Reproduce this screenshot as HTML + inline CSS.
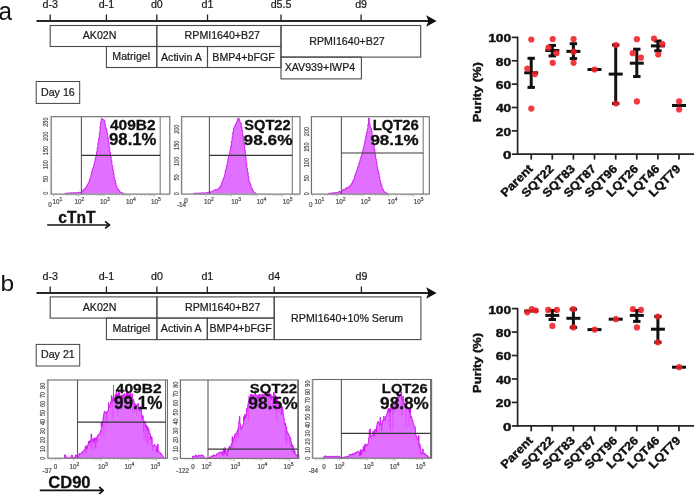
<!DOCTYPE html>
<html><head><meta charset="utf-8"><style>
html,body{margin:0;padding:0;background:#fff;width:694px;height:495px;overflow:hidden}
svg{display:block;font-family:"Liberation Sans", sans-serif;will-change:transform}
</style></head><body>
<svg width="694" height="495" viewBox="0 0 694 495">
<rect width="694" height="495" fill="#fff"/>
<text x="-1.57" y="20.00" font-size="26.67" font-weight="normal" fill="#111" textLength="13.48" lengthAdjust="spacingAndGlyphs" >a</text>
<text x="0.48" y="291.00" font-size="22.88" font-weight="normal" fill="#111" textLength="13.65" lengthAdjust="spacingAndGlyphs" >b</text>
<line x1="36.50" y1="21.00" x2="429.00" y2="21.00" stroke="#262626" stroke-width="2"/>
<polygon points="426.2,15.3 436.6,21.0 426.2,26.7 428.4,21.0" fill="#111"/>
<line x1="50.20" y1="14.50" x2="50.20" y2="21.00" stroke="#222" stroke-width="1.3"/>
<text x="50.20" y="7.80" font-size="10.65" text-anchor="middle" font-weight="normal" fill="#1a1a1a" stroke="#1a1a1a" stroke-width="0.22">d-3</text>
<line x1="106.40" y1="14.50" x2="106.40" y2="21.00" stroke="#222" stroke-width="1.3"/>
<text x="106.40" y="7.80" font-size="10.65" text-anchor="middle" font-weight="normal" fill="#1a1a1a" stroke="#1a1a1a" stroke-width="0.22">d-1</text>
<line x1="156.80" y1="14.50" x2="156.80" y2="21.00" stroke="#222" stroke-width="1.3"/>
<text x="156.80" y="7.80" font-size="10.65" text-anchor="middle" font-weight="normal" fill="#1a1a1a" stroke="#1a1a1a" stroke-width="0.22">d0</text>
<line x1="207.50" y1="14.50" x2="207.50" y2="21.00" stroke="#222" stroke-width="1.3"/>
<text x="207.50" y="7.80" font-size="10.65" text-anchor="middle" font-weight="normal" fill="#1a1a1a" stroke="#1a1a1a" stroke-width="0.22">d1</text>
<line x1="281.00" y1="14.50" x2="281.00" y2="21.00" stroke="#222" stroke-width="1.3"/>
<text x="281.00" y="7.80" font-size="10.65" text-anchor="middle" font-weight="normal" fill="#1a1a1a" stroke="#1a1a1a" stroke-width="0.22">d5.5</text>
<line x1="361.10" y1="14.50" x2="361.10" y2="21.00" stroke="#222" stroke-width="1.3"/>
<text x="361.10" y="7.80" font-size="10.65" text-anchor="middle" font-weight="normal" fill="#1a1a1a" stroke="#1a1a1a" stroke-width="0.22">d9</text>
<rect x="50.20" y="25.50" width="106.60" height="21.00" stroke="#4a4a4a" stroke-width="1.1" fill="none"/>
<rect x="106.40" y="46.50" width="50.40" height="21.00" stroke="#4a4a4a" stroke-width="1.1" fill="none"/>
<rect x="156.80" y="25.50" width="124.20" height="21.00" stroke="#4a4a4a" stroke-width="1.1" fill="none"/>
<rect x="156.80" y="46.50" width="50.70" height="21.00" stroke="#4a4a4a" stroke-width="1.1" fill="none"/>
<rect x="207.50" y="46.50" width="73.50" height="21.00" stroke="#4a4a4a" stroke-width="1.1" fill="none"/>
<rect x="281.00" y="25.50" width="139.70" height="31.60" stroke="#4a4a4a" stroke-width="1.1" fill="none"/>
<rect x="281.00" y="57.10" width="80.40" height="21.80" stroke="#4a4a4a" stroke-width="1.1" fill="none"/>
<text x="82.70" y="38.90" font-size="10.65" text-anchor="start" font-weight="normal" fill="#1a1a1a" stroke="#1a1a1a" stroke-width="0.22">AK02N</text>
<text x="112.30" y="60.40" font-size="10.65" text-anchor="start" font-weight="normal" fill="#1a1a1a" stroke="#1a1a1a" stroke-width="0.22">Matrigel</text>
<text x="184.60" y="38.90" font-size="10.65" text-anchor="start" font-weight="normal" fill="#1a1a1a" stroke="#1a1a1a" stroke-width="0.22">RPMI1640+B27</text>
<text x="161.00" y="60.50" font-size="10.65" text-anchor="start" font-weight="normal" fill="#1a1a1a" stroke="#1a1a1a" stroke-width="0.22">Activin A</text>
<text x="212.30" y="60.50" font-size="10.65" text-anchor="start" font-weight="normal" fill="#1a1a1a" stroke="#1a1a1a" stroke-width="0.22">BMP4+bFGF</text>
<text x="309.30" y="44.60" font-size="10.65" text-anchor="start" font-weight="normal" fill="#1a1a1a" stroke="#1a1a1a" stroke-width="0.22">RPMI1640+B27</text>
<text x="284.70" y="71.00" font-size="10.65" text-anchor="start" font-weight="normal" fill="#1a1a1a" stroke="#1a1a1a" stroke-width="0.22">XAV939+IWP4</text>
<line x1="36.50" y1="293.00" x2="429.00" y2="293.00" stroke="#262626" stroke-width="2"/>
<polygon points="426.2,287.3 436.6,293.0 426.2,298.7 428.4,293.0" fill="#111"/>
<line x1="50.20" y1="286.50" x2="50.20" y2="293.00" stroke="#222" stroke-width="1.3"/>
<text x="50.20" y="279.80" font-size="10.65" text-anchor="middle" font-weight="normal" fill="#1a1a1a" stroke="#1a1a1a" stroke-width="0.22">d-3</text>
<line x1="106.40" y1="286.50" x2="106.40" y2="293.00" stroke="#222" stroke-width="1.3"/>
<text x="106.40" y="279.80" font-size="10.65" text-anchor="middle" font-weight="normal" fill="#1a1a1a" stroke="#1a1a1a" stroke-width="0.22">d-1</text>
<line x1="156.90" y1="286.50" x2="156.90" y2="293.00" stroke="#222" stroke-width="1.3"/>
<text x="156.90" y="279.80" font-size="10.65" text-anchor="middle" font-weight="normal" fill="#1a1a1a" stroke="#1a1a1a" stroke-width="0.22">d0</text>
<line x1="207.30" y1="286.50" x2="207.30" y2="293.00" stroke="#222" stroke-width="1.3"/>
<text x="207.30" y="279.80" font-size="10.65" text-anchor="middle" font-weight="normal" fill="#1a1a1a" stroke="#1a1a1a" stroke-width="0.22">d1</text>
<line x1="274.20" y1="286.50" x2="274.20" y2="293.00" stroke="#222" stroke-width="1.3"/>
<text x="274.20" y="279.80" font-size="10.65" text-anchor="middle" font-weight="normal" fill="#1a1a1a" stroke="#1a1a1a" stroke-width="0.22">d4</text>
<line x1="361.40" y1="286.50" x2="361.40" y2="293.00" stroke="#222" stroke-width="1.3"/>
<text x="361.40" y="279.80" font-size="10.65" text-anchor="middle" font-weight="normal" fill="#1a1a1a" stroke="#1a1a1a" stroke-width="0.22">d9</text>
<rect x="50.20" y="296.90" width="106.70" height="21.20" stroke="#4a4a4a" stroke-width="1.1" fill="none"/>
<rect x="106.40" y="318.10" width="50.50" height="21.50" stroke="#4a4a4a" stroke-width="1.1" fill="none"/>
<rect x="156.90" y="296.90" width="117.30" height="21.20" stroke="#4a4a4a" stroke-width="1.1" fill="none"/>
<rect x="156.90" y="318.10" width="50.40" height="21.50" stroke="#4a4a4a" stroke-width="1.1" fill="none"/>
<rect x="207.30" y="318.10" width="66.90" height="21.50" stroke="#4a4a4a" stroke-width="1.1" fill="none"/>
<rect x="274.20" y="296.90" width="146.70" height="42.70" stroke="#4a4a4a" stroke-width="1.1" fill="none"/>
<text x="82.70" y="310.90" font-size="10.65" text-anchor="start" font-weight="normal" fill="#1a1a1a" stroke="#1a1a1a" stroke-width="0.22">AK02N</text>
<text x="112.40" y="332.00" font-size="10.65" text-anchor="start" font-weight="normal" fill="#1a1a1a" stroke="#1a1a1a" stroke-width="0.22">Matrigel</text>
<text x="185.00" y="310.60" font-size="10.65" text-anchor="start" font-weight="normal" fill="#1a1a1a" stroke="#1a1a1a" stroke-width="0.22">RPMI1640+B27</text>
<text x="160.80" y="332.00" font-size="10.65" text-anchor="start" font-weight="normal" fill="#1a1a1a" stroke="#1a1a1a" stroke-width="0.22">Activin A</text>
<text x="209.40" y="332.00" font-size="10.65" text-anchor="start" font-weight="normal" fill="#1a1a1a" stroke="#1a1a1a" stroke-width="0.22">BMP4+bFGF</text>
<text x="291.10" y="321.60" font-size="10.65" text-anchor="start" font-weight="normal" fill="#1a1a1a" stroke="#1a1a1a" stroke-width="0.22">RPMI1640+10% Serum</text>
<rect x="36.20" y="81.50" width="43.50" height="21.90" stroke="#444" stroke-width="1" fill="none"/>
<text x="41.00" y="95.60" font-size="10.65" text-anchor="start" font-weight="normal" fill="#1a1a1a" stroke="#1a1a1a" stroke-width="0.22">Day 16</text>
<rect x="36.20" y="344.40" width="43.50" height="21.60" stroke="#444" stroke-width="1" fill="none"/>
<text x="41.00" y="358.00" font-size="10.65" text-anchor="start" font-weight="normal" fill="#1a1a1a" stroke="#1a1a1a" stroke-width="0.22">Day 21</text>
<path d="M65.00,193.60 L65.00,193.26 L65.70,193.26 L65.70,193.29 L66.40,193.29 L66.40,193.23 L67.10,193.23 L67.10,193.09 L67.80,193.09 L67.80,193.08 L68.50,193.08 L68.50,193.01 L69.20,193.01 L69.20,193.00 L69.90,193.00 L69.90,192.99 L70.60,192.99 L70.60,192.76 L71.30,192.76 L71.30,192.71 L72.00,192.71 L72.00,192.92 L72.70,192.92 L72.70,192.77 L73.40,192.77 L73.40,192.85 L74.10,192.85 L74.10,192.56 L74.80,192.56 L74.80,192.69 L75.50,192.69 L75.50,192.75 L76.20,192.75 L76.20,192.52 L76.90,192.52 L76.90,192.77 L77.60,192.77 L77.60,192.71 L78.30,192.71 L78.30,192.30 L79.00,192.30 L79.00,192.24 L79.70,192.24 L79.70,192.44 L80.40,192.44 L80.40,192.47 L81.10,192.47 L81.10,191.85 L81.80,191.85 L81.80,191.21 L82.50,191.21 L82.50,190.77 L83.20,190.77 L83.20,189.69 L83.90,189.69 L83.90,189.25 L84.60,189.25 L84.60,188.78 L85.30,188.78 L85.30,188.12 L86.00,188.12 L86.00,186.99 L86.70,186.99 L86.70,185.68 L87.40,185.68 L87.40,184.35 L88.10,184.35 L88.10,183.18 L88.80,183.18 L88.80,181.50 L89.50,181.50 L89.50,179.31 L90.20,179.31 L90.20,177.44 L90.90,177.44 L90.90,174.30 L91.60,174.30 L91.60,171.72 L92.30,171.72 L92.30,168.67 L93.00,168.67 L93.00,167.27 L93.70,167.27 L93.70,164.82 L94.40,164.82 L94.40,161.67 L95.10,161.67 L95.10,158.56 L95.80,158.56 L95.80,155.49 L96.50,155.49 L96.50,151.64 L97.20,151.64 L97.20,147.66 L97.90,147.66 L97.90,142.81 L98.60,142.81 L98.60,138.15 L99.30,138.15 L99.30,132.80 L100.00,132.80 L100.00,126.36 L100.70,126.36 L100.70,121.45 L101.40,121.45 L101.40,118.46 L102.10,118.46 L102.10,119.37 L102.80,119.37 L102.80,119.55 L103.50,119.55 L103.50,119.75 L104.20,119.75 L104.20,120.64 L104.90,120.64 L104.90,124.39 L105.60,124.39 L105.60,127.91 L106.30,127.91 L106.30,130.05 L107.00,130.05 L107.00,133.54 L107.70,133.54 L107.70,138.23 L108.40,138.23 L108.40,142.92 L109.10,142.92 L109.10,148.03 L109.80,148.03 L109.80,152.50 L110.50,152.50 L110.50,156.60 L111.20,156.60 L111.20,160.83 L111.90,160.83 L111.90,165.40 L112.60,165.40 L112.60,169.33 L113.30,169.33 L113.30,173.42 L114.00,173.42 L114.00,177.78 L114.70,177.78 L114.70,180.36 L115.40,180.36 L115.40,183.07 L116.10,183.07 L116.10,185.86 L116.80,185.86 L116.80,188.08 L117.50,188.08 L117.50,188.85 L118.20,188.85 L118.20,189.84 L118.90,189.84 L118.90,190.57 L119.60,190.57 L119.60,191.67 L120.30,191.67 L120.30,192.57 L121.00,192.57 L121.00,192.64 L121.70,192.64 L121.70,192.74 L122.40,192.74 L122.40,193.03 L123.10,193.03 L123.10,193.08 L123.80,193.08 L123.80,193.60 Z" fill="#E16FFF" stroke="none"/>
<path d="M65.00,193.60 L65.00,193.26 L65.70,193.26 L65.70,193.29 L66.40,193.29 L66.40,193.23 L67.10,193.23 L67.10,193.09 L67.80,193.09 L67.80,193.08 L68.50,193.08 L68.50,193.01 L69.20,193.01 L69.20,193.00 L69.90,193.00 L69.90,192.99 L70.60,192.99 L70.60,192.76 L71.30,192.76 L71.30,192.71 L72.00,192.71 L72.00,192.92 L72.70,192.92 L72.70,192.77 L73.40,192.77 L73.40,192.85 L74.10,192.85 L74.10,192.56 L74.80,192.56 L74.80,192.69 L75.50,192.69 L75.50,192.75 L76.20,192.75 L76.20,192.52 L76.90,192.52 L76.90,192.77 L77.60,192.77 L77.60,192.71 L78.30,192.71 L78.30,192.30 L79.00,192.30 L79.00,192.24 L79.70,192.24 L79.70,192.44 L80.40,192.44 L80.40,192.47 L81.10,192.47 L81.10,191.85 L81.80,191.85 L81.80,191.21 L82.50,191.21 L82.50,190.77 L83.20,190.77 L83.20,189.69 L83.90,189.69 L83.90,189.25 L84.60,189.25 L84.60,188.78 L85.30,188.78 L85.30,188.12 L86.00,188.12 L86.00,186.99 L86.70,186.99 L86.70,185.68 L87.40,185.68 L87.40,184.35 L88.10,184.35 L88.10,183.18 L88.80,183.18 L88.80,181.50 L89.50,181.50 L89.50,179.31 L90.20,179.31 L90.20,177.44 L90.90,177.44 L90.90,174.30 L91.60,174.30 L91.60,171.72 L92.30,171.72 L92.30,168.67 L93.00,168.67 L93.00,167.27 L93.70,167.27 L93.70,164.82 L94.40,164.82 L94.40,161.67 L95.10,161.67 L95.10,158.56 L95.80,158.56 L95.80,155.49 L96.50,155.49 L96.50,151.64 L97.20,151.64 L97.20,147.66 L97.90,147.66 L97.90,142.81 L98.60,142.81 L98.60,138.15 L99.30,138.15 L99.30,132.80 L100.00,132.80 L100.00,126.36 L100.70,126.36 L100.70,121.45 L101.40,121.45 L101.40,118.46 L102.10,118.46 L102.10,119.37 L102.80,119.37 L102.80,119.55 L103.50,119.55 L103.50,119.75 L104.20,119.75 L104.20,120.64 L104.90,120.64 L104.90,124.39 L105.60,124.39 L105.60,127.91 L106.30,127.91 L106.30,130.05 L107.00,130.05 L107.00,133.54 L107.70,133.54 L107.70,138.23 L108.40,138.23 L108.40,142.92 L109.10,142.92 L109.10,148.03 L109.80,148.03 L109.80,152.50 L110.50,152.50 L110.50,156.60 L111.20,156.60 L111.20,160.83 L111.90,160.83 L111.90,165.40 L112.60,165.40 L112.60,169.33 L113.30,169.33 L113.30,173.42 L114.00,173.42 L114.00,177.78 L114.70,177.78 L114.70,180.36 L115.40,180.36 L115.40,183.07 L116.10,183.07 L116.10,185.86 L116.80,185.86 L116.80,188.08 L117.50,188.08 L117.50,188.85 L118.20,188.85 L118.20,189.84 L118.90,189.84 L118.90,190.57 L119.60,190.57 L119.60,191.67 L120.30,191.67 L120.30,192.57 L121.00,192.57 L121.00,192.64 L121.70,192.64 L121.70,192.74 L122.40,192.74 L122.40,193.03 L123.10,193.03 L123.10,193.08 L123.80,193.08 L123.80,193.60" fill="none" stroke="#D000F2" stroke-width="0.85" stroke-linejoin="miter" stroke-opacity="0.95"/>
<rect x="51.20" y="116.70" width="118.60" height="77.40" stroke="#6a6a6a" stroke-width="1.1" fill="none"/>
<line x1="81.40" y1="116.70" x2="81.40" y2="194.10" stroke="#5a5a5a" stroke-width="1.1"/>
<line x1="160.20" y1="116.70" x2="160.20" y2="194.10" stroke="#707070" stroke-width="1.0"/>
<line x1="81.40" y1="155.40" x2="160.20" y2="155.40" stroke="#383838" stroke-width="1.1"/>
<path d="M193.60,193.60 L193.60,193.35 L194.30,193.35 L194.30,193.33 L195.00,193.33 L195.00,193.17 L195.70,193.17 L195.70,193.14 L196.40,193.14 L196.40,193.23 L197.10,193.23 L197.10,193.18 L197.80,193.18 L197.80,193.14 L198.50,193.14 L198.50,193.03 L199.20,193.03 L199.20,193.06 L199.90,193.06 L199.90,193.03 L200.60,193.03 L200.60,193.00 L201.30,193.00 L201.30,192.86 L202.00,192.86 L202.00,192.90 L202.70,192.90 L202.70,192.86 L203.40,192.86 L203.40,192.93 L204.10,192.93 L204.10,192.99 L204.80,192.99 L204.80,192.95 L205.50,192.95 L205.50,192.76 L206.20,192.76 L206.20,192.64 L206.90,192.64 L206.90,192.49 L207.60,192.49 L207.60,192.30 L208.30,192.30 L208.30,192.20 L209.00,192.20 L209.00,192.33 L209.70,192.33 L209.70,192.09 L210.40,192.09 L210.40,191.86 L211.10,191.86 L211.10,191.98 L211.80,191.98 L211.80,191.42 L212.50,191.42 L212.50,191.17 L213.20,191.17 L213.20,190.53 L213.90,190.53 L213.90,189.97 L214.60,189.97 L214.60,190.09 L215.30,190.09 L215.30,189.63 L216.00,189.63 L216.00,189.85 L216.70,189.85 L216.70,190.20 L217.40,190.20 L217.40,189.58 L218.10,189.58 L218.10,188.31 L218.80,188.31 L218.80,188.32 L219.50,188.32 L219.50,187.36 L220.20,187.36 L220.20,185.93 L220.90,185.93 L220.90,184.78 L221.60,184.78 L221.60,182.82 L222.30,182.82 L222.30,181.00 L223.00,181.00 L223.00,178.62 L223.70,178.62 L223.70,177.38 L224.40,177.38 L224.40,174.59 L225.10,174.59 L225.10,170.85 L225.80,170.85 L225.80,168.79 L226.50,168.79 L226.50,165.66 L227.20,165.66 L227.20,161.85 L227.90,161.85 L227.90,158.44 L228.60,158.44 L228.60,155.52 L229.30,155.52 L229.30,153.18 L230.00,153.18 L230.00,149.80 L230.70,149.80 L230.70,145.96 L231.40,145.96 L231.40,141.14 L232.10,141.14 L232.10,137.02 L232.80,137.02 L232.80,131.89 L233.50,131.89 L233.50,128.14 L234.20,128.14 L234.20,126.50 L234.90,126.50 L234.90,125.25 L235.60,125.25 L235.60,123.94 L236.30,123.94 L236.30,122.59 L237.00,122.59 L237.00,120.32 L237.70,120.32 L237.70,118.36 L238.40,118.36 L238.40,118.30 L239.10,118.30 L239.10,119.61 L239.80,119.61 L239.80,122.32 L240.50,122.32 L240.50,123.07 L241.20,123.07 L241.20,126.92 L241.90,126.92 L241.90,130.44 L242.60,130.44 L242.60,135.55 L243.30,135.55 L243.30,140.19 L244.00,140.19 L244.00,144.89 L244.70,144.89 L244.70,150.61 L245.40,150.61 L245.40,156.78 L246.10,156.78 L246.10,162.76 L246.80,162.76 L246.80,168.47 L247.50,168.47 L247.50,172.35 L248.20,172.35 L248.20,176.71 L248.90,176.71 L248.90,181.22 L249.60,181.22 L249.60,183.01 L250.30,183.01 L250.30,184.52 L251.00,184.52 L251.00,187.58 L251.70,187.58 L251.70,188.88 L252.40,188.88 L252.40,190.39 L253.10,190.39 L253.10,190.90 L253.80,190.90 L253.80,192.48 L254.50,192.48 L254.50,192.62 L255.20,192.62 L255.20,193.21 L255.90,193.21 L255.90,193.60 Z" fill="#E16FFF" stroke="none"/>
<path d="M193.60,193.60 L193.60,193.35 L194.30,193.35 L194.30,193.33 L195.00,193.33 L195.00,193.17 L195.70,193.17 L195.70,193.14 L196.40,193.14 L196.40,193.23 L197.10,193.23 L197.10,193.18 L197.80,193.18 L197.80,193.14 L198.50,193.14 L198.50,193.03 L199.20,193.03 L199.20,193.06 L199.90,193.06 L199.90,193.03 L200.60,193.03 L200.60,193.00 L201.30,193.00 L201.30,192.86 L202.00,192.86 L202.00,192.90 L202.70,192.90 L202.70,192.86 L203.40,192.86 L203.40,192.93 L204.10,192.93 L204.10,192.99 L204.80,192.99 L204.80,192.95 L205.50,192.95 L205.50,192.76 L206.20,192.76 L206.20,192.64 L206.90,192.64 L206.90,192.49 L207.60,192.49 L207.60,192.30 L208.30,192.30 L208.30,192.20 L209.00,192.20 L209.00,192.33 L209.70,192.33 L209.70,192.09 L210.40,192.09 L210.40,191.86 L211.10,191.86 L211.10,191.98 L211.80,191.98 L211.80,191.42 L212.50,191.42 L212.50,191.17 L213.20,191.17 L213.20,190.53 L213.90,190.53 L213.90,189.97 L214.60,189.97 L214.60,190.09 L215.30,190.09 L215.30,189.63 L216.00,189.63 L216.00,189.85 L216.70,189.85 L216.70,190.20 L217.40,190.20 L217.40,189.58 L218.10,189.58 L218.10,188.31 L218.80,188.31 L218.80,188.32 L219.50,188.32 L219.50,187.36 L220.20,187.36 L220.20,185.93 L220.90,185.93 L220.90,184.78 L221.60,184.78 L221.60,182.82 L222.30,182.82 L222.30,181.00 L223.00,181.00 L223.00,178.62 L223.70,178.62 L223.70,177.38 L224.40,177.38 L224.40,174.59 L225.10,174.59 L225.10,170.85 L225.80,170.85 L225.80,168.79 L226.50,168.79 L226.50,165.66 L227.20,165.66 L227.20,161.85 L227.90,161.85 L227.90,158.44 L228.60,158.44 L228.60,155.52 L229.30,155.52 L229.30,153.18 L230.00,153.18 L230.00,149.80 L230.70,149.80 L230.70,145.96 L231.40,145.96 L231.40,141.14 L232.10,141.14 L232.10,137.02 L232.80,137.02 L232.80,131.89 L233.50,131.89 L233.50,128.14 L234.20,128.14 L234.20,126.50 L234.90,126.50 L234.90,125.25 L235.60,125.25 L235.60,123.94 L236.30,123.94 L236.30,122.59 L237.00,122.59 L237.00,120.32 L237.70,120.32 L237.70,118.36 L238.40,118.36 L238.40,118.30 L239.10,118.30 L239.10,119.61 L239.80,119.61 L239.80,122.32 L240.50,122.32 L240.50,123.07 L241.20,123.07 L241.20,126.92 L241.90,126.92 L241.90,130.44 L242.60,130.44 L242.60,135.55 L243.30,135.55 L243.30,140.19 L244.00,140.19 L244.00,144.89 L244.70,144.89 L244.70,150.61 L245.40,150.61 L245.40,156.78 L246.10,156.78 L246.10,162.76 L246.80,162.76 L246.80,168.47 L247.50,168.47 L247.50,172.35 L248.20,172.35 L248.20,176.71 L248.90,176.71 L248.90,181.22 L249.60,181.22 L249.60,183.01 L250.30,183.01 L250.30,184.52 L251.00,184.52 L251.00,187.58 L251.70,187.58 L251.70,188.88 L252.40,188.88 L252.40,190.39 L253.10,190.39 L253.10,190.90 L253.80,190.90 L253.80,192.48 L254.50,192.48 L254.50,192.62 L255.20,192.62 L255.20,193.21 L255.90,193.21 L255.90,193.60" fill="none" stroke="#D000F2" stroke-width="0.85" stroke-linejoin="miter" stroke-opacity="0.95"/>
<rect x="181.70" y="116.70" width="118.30" height="77.40" stroke="#6a6a6a" stroke-width="1.1" fill="none"/>
<line x1="209.40" y1="116.70" x2="209.40" y2="194.10" stroke="#5a5a5a" stroke-width="1.1"/>
<line x1="292.30" y1="116.70" x2="292.30" y2="194.10" stroke="#707070" stroke-width="1.0"/>
<line x1="209.40" y1="155.40" x2="292.30" y2="155.40" stroke="#383838" stroke-width="1.1"/>
<path d="M328.70,193.70 L328.70,193.26 L329.40,193.26 L329.40,193.26 L330.10,193.26 L330.10,193.17 L330.80,193.17 L330.80,193.16 L331.50,193.16 L331.50,193.12 L332.20,193.12 L332.20,192.92 L332.90,192.92 L332.90,192.84 L333.60,192.84 L333.60,193.03 L334.30,193.03 L334.30,192.77 L335.00,192.77 L335.00,192.65 L335.70,192.65 L335.70,192.85 L336.40,192.85 L336.40,192.53 L337.10,192.53 L337.10,192.61 L337.80,192.61 L337.80,192.32 L338.50,192.32 L338.50,191.91 L339.20,191.91 L339.20,191.12 L339.90,191.12 L339.90,192.00 L340.60,192.00 L340.60,192.41 L341.30,192.41 L341.30,191.44 L342.00,191.44 L342.00,190.94 L342.70,190.94 L342.70,190.20 L343.40,190.20 L343.40,189.11 L344.10,189.11 L344.10,189.58 L344.80,189.58 L344.80,189.01 L345.50,189.01 L345.50,188.31 L346.20,188.31 L346.20,187.64 L346.90,187.64 L346.90,188.29 L347.60,188.29 L347.60,187.47 L348.30,187.47 L348.30,187.06 L349.00,187.06 L349.00,186.55 L349.70,186.55 L349.70,185.66 L350.40,185.66 L350.40,185.21 L351.10,185.21 L351.10,183.78 L351.80,183.78 L351.80,182.89 L352.50,182.89 L352.50,181.09 L353.20,181.09 L353.20,180.31 L353.90,180.31 L353.90,178.55 L354.60,178.55 L354.60,175.52 L355.30,175.52 L355.30,173.46 L356.00,173.46 L356.00,171.46 L356.70,171.46 L356.70,170.28 L357.40,170.28 L357.40,167.57 L358.10,167.57 L358.10,165.73 L358.80,165.73 L358.80,163.26 L359.50,163.26 L359.50,161.19 L360.20,161.19 L360.20,158.73 L360.90,158.73 L360.90,156.37 L361.60,156.37 L361.60,154.18 L362.30,154.18 L362.30,151.29 L363.00,151.29 L363.00,148.79 L363.70,148.79 L363.70,145.64 L364.40,145.64 L364.40,142.59 L365.10,142.59 L365.10,138.96 L365.80,138.96 L365.80,135.73 L366.50,135.73 L366.50,132.36 L367.20,132.36 L367.20,128.75 L367.90,128.75 L367.90,124.12 L368.60,124.12 L368.60,118.06 L369.30,118.06 L369.30,123.37 L370.00,123.37 L370.00,126.65 L370.70,126.65 L370.70,128.34 L371.40,128.34 L371.40,131.31 L372.10,131.31 L372.10,135.96 L372.80,135.96 L372.80,140.01 L373.50,140.01 L373.50,144.60 L374.20,144.60 L374.20,149.28 L374.90,149.28 L374.90,154.47 L375.60,154.47 L375.60,158.87 L376.30,158.87 L376.30,161.90 L377.00,161.90 L377.00,166.76 L377.70,166.76 L377.70,170.29 L378.40,170.29 L378.40,173.26 L379.10,173.26 L379.10,176.71 L379.80,176.71 L379.80,180.55 L380.50,180.55 L380.50,183.30 L381.20,183.30 L381.20,184.81 L381.90,184.81 L381.90,188.00 L382.60,188.00 L382.60,189.16 L383.30,189.16 L383.30,190.93 L384.00,190.93 L384.00,191.48 L384.70,191.48 L384.70,192.58 L385.40,192.58 L385.40,192.85 L386.10,192.85 L386.10,192.92 L386.80,192.92 L386.80,193.29 L387.50,193.29 L387.50,193.70 Z" fill="#E16FFF" stroke="none"/>
<path d="M328.70,193.70 L328.70,193.26 L329.40,193.26 L329.40,193.26 L330.10,193.26 L330.10,193.17 L330.80,193.17 L330.80,193.16 L331.50,193.16 L331.50,193.12 L332.20,193.12 L332.20,192.92 L332.90,192.92 L332.90,192.84 L333.60,192.84 L333.60,193.03 L334.30,193.03 L334.30,192.77 L335.00,192.77 L335.00,192.65 L335.70,192.65 L335.70,192.85 L336.40,192.85 L336.40,192.53 L337.10,192.53 L337.10,192.61 L337.80,192.61 L337.80,192.32 L338.50,192.32 L338.50,191.91 L339.20,191.91 L339.20,191.12 L339.90,191.12 L339.90,192.00 L340.60,192.00 L340.60,192.41 L341.30,192.41 L341.30,191.44 L342.00,191.44 L342.00,190.94 L342.70,190.94 L342.70,190.20 L343.40,190.20 L343.40,189.11 L344.10,189.11 L344.10,189.58 L344.80,189.58 L344.80,189.01 L345.50,189.01 L345.50,188.31 L346.20,188.31 L346.20,187.64 L346.90,187.64 L346.90,188.29 L347.60,188.29 L347.60,187.47 L348.30,187.47 L348.30,187.06 L349.00,187.06 L349.00,186.55 L349.70,186.55 L349.70,185.66 L350.40,185.66 L350.40,185.21 L351.10,185.21 L351.10,183.78 L351.80,183.78 L351.80,182.89 L352.50,182.89 L352.50,181.09 L353.20,181.09 L353.20,180.31 L353.90,180.31 L353.90,178.55 L354.60,178.55 L354.60,175.52 L355.30,175.52 L355.30,173.46 L356.00,173.46 L356.00,171.46 L356.70,171.46 L356.70,170.28 L357.40,170.28 L357.40,167.57 L358.10,167.57 L358.10,165.73 L358.80,165.73 L358.80,163.26 L359.50,163.26 L359.50,161.19 L360.20,161.19 L360.20,158.73 L360.90,158.73 L360.90,156.37 L361.60,156.37 L361.60,154.18 L362.30,154.18 L362.30,151.29 L363.00,151.29 L363.00,148.79 L363.70,148.79 L363.70,145.64 L364.40,145.64 L364.40,142.59 L365.10,142.59 L365.10,138.96 L365.80,138.96 L365.80,135.73 L366.50,135.73 L366.50,132.36 L367.20,132.36 L367.20,128.75 L367.90,128.75 L367.90,124.12 L368.60,124.12 L368.60,118.06 L369.30,118.06 L369.30,123.37 L370.00,123.37 L370.00,126.65 L370.70,126.65 L370.70,128.34 L371.40,128.34 L371.40,131.31 L372.10,131.31 L372.10,135.96 L372.80,135.96 L372.80,140.01 L373.50,140.01 L373.50,144.60 L374.20,144.60 L374.20,149.28 L374.90,149.28 L374.90,154.47 L375.60,154.47 L375.60,158.87 L376.30,158.87 L376.30,161.90 L377.00,161.90 L377.00,166.76 L377.70,166.76 L377.70,170.29 L378.40,170.29 L378.40,173.26 L379.10,173.26 L379.10,176.71 L379.80,176.71 L379.80,180.55 L380.50,180.55 L380.50,183.30 L381.20,183.30 L381.20,184.81 L381.90,184.81 L381.90,188.00 L382.60,188.00 L382.60,189.16 L383.30,189.16 L383.30,190.93 L384.00,190.93 L384.00,191.48 L384.70,191.48 L384.70,192.58 L385.40,192.58 L385.40,192.85 L386.10,192.85 L386.10,192.92 L386.80,192.92 L386.80,193.29 L387.50,193.29 L387.50,193.70" fill="none" stroke="#D000F2" stroke-width="0.85" stroke-linejoin="miter" stroke-opacity="0.95"/>
<rect x="311.50" y="116.70" width="117.80" height="77.40" stroke="#6a6a6a" stroke-width="1.1" fill="none"/>
<line x1="341.40" y1="116.70" x2="341.40" y2="194.10" stroke="#5a5a5a" stroke-width="1.1"/>
<line x1="423.20" y1="116.70" x2="423.20" y2="194.10" stroke="#707070" stroke-width="1.0"/>
<line x1="341.40" y1="153.00" x2="423.20" y2="153.00" stroke="#383838" stroke-width="1.1"/>
<text x="109.99" y="130.00" font-size="13.71" font-weight="bold" fill="#111" textLength="45.58" lengthAdjust="spacingAndGlyphs" stroke="#111" stroke-width="0.3">409B2</text>
<text x="109.03" y="145.20" font-size="15.57" font-weight="bold" fill="#111" textLength="47.50" lengthAdjust="spacingAndGlyphs" stroke="#111" stroke-width="0.3">98.1%</text>
<text x="244.26" y="130.00" font-size="13.71" font-weight="bold" fill="#111" textLength="46.40" lengthAdjust="spacingAndGlyphs" stroke="#111" stroke-width="0.3">SQT22</text>
<text x="243.61" y="145.00" font-size="15.29" font-weight="bold" fill="#111" textLength="48.93" lengthAdjust="spacingAndGlyphs" stroke="#111" stroke-width="0.3">98.6%</text>
<text x="372.66" y="130.00" font-size="13.71" font-weight="bold" fill="#111" textLength="46.16" lengthAdjust="spacingAndGlyphs" stroke="#111" stroke-width="0.3">LQT26</text>
<text x="370.42" y="145.00" font-size="15.29" font-weight="bold" fill="#111" textLength="48.21" lengthAdjust="spacingAndGlyphs" stroke="#111" stroke-width="0.3">98.1%</text>
<path d="M64.00,458.10 L64.00,457.86 L64.60,457.86 L64.60,454.81 L65.20,454.81 L65.20,455.32 L65.80,455.32 L65.80,456.67 L66.40,456.67 L66.40,457.84 L67.00,457.84 L67.00,457.89 L67.60,457.89 L67.60,457.96 L68.20,457.96 L68.20,457.94 L68.80,457.94 L68.80,457.94 L69.40,457.94 L69.40,457.86 L70.00,457.86 L70.00,457.90 L70.60,457.90 L70.60,457.39 L71.20,457.39 L71.20,455.30 L71.80,455.30 L71.80,455.20 L72.40,455.20 L72.40,457.36 L73.00,457.36 L73.00,457.96 L73.60,457.96 L73.60,457.94 L74.20,457.94 L74.20,457.94 L74.80,457.94 L74.80,456.79 L75.40,456.79 L75.40,454.97 L76.00,454.97 L76.00,455.17 L76.60,455.17 L76.60,456.09 L77.20,456.09 L77.20,456.58 L77.80,456.58 L77.80,456.46 L78.40,456.46 L78.40,455.62 L79.00,455.62 L79.00,453.47 L79.60,453.47 L79.60,454.21 L80.20,454.21 L80.20,454.04 L80.80,454.04 L80.80,453.41 L81.40,453.41 L81.40,452.46 L82.00,452.46 L82.00,452.75 L82.60,452.75 L82.60,451.16 L83.20,451.16 L83.20,451.26 L83.80,451.26 L83.80,450.50 L84.40,450.50 L84.40,449.55 L85.00,449.55 L85.00,446.78 L85.60,446.78 L85.60,445.86 L86.20,445.86 L86.20,447.12 L86.80,447.12 L86.80,448.82 L87.40,448.82 L87.40,445.04 L88.00,445.04 L88.00,444.09 L88.60,444.09 L88.60,441.25 L89.20,441.25 L89.20,442.84 L89.80,442.84 L89.80,440.65 L90.40,440.65 L90.40,442.09 L91.00,442.09 L91.00,434.02 L91.60,434.02 L91.60,440.21 L92.20,440.21 L92.20,439.49 L92.80,439.49 L92.80,438.86 L93.40,438.86 L93.40,442.34 L94.00,442.34 L94.00,437.92 L94.60,437.92 L94.60,438.67 L95.20,438.67 L95.20,438.08 L95.80,438.08 L95.80,439.62 L96.40,439.62 L96.40,437.74 L97.00,437.74 L97.00,436.31 L97.60,436.31 L97.60,435.59 L98.20,435.59 L98.20,434.56 L98.80,434.56 L98.80,433.79 L99.40,433.79 L99.40,433.93 L100.00,433.93 L100.00,431.61 L100.60,431.61 L100.60,430.58 L101.20,430.58 L101.20,422.14 L101.80,422.14 L101.80,426.02 L102.40,426.02 L102.40,421.52 L103.00,421.52 L103.00,417.40 L103.60,417.40 L103.60,413.97 L104.20,413.97 L104.20,411.22 L104.80,411.22 L104.80,412.07 L105.40,412.07 L105.40,412.21 L106.00,412.21 L106.00,413.43 L106.60,413.43 L106.60,411.81 L107.20,411.81 L107.20,411.13 L107.80,411.13 L107.80,410.86 L108.40,410.86 L108.40,407.70 L109.00,407.70 L109.00,407.28 L109.60,407.28 L109.60,404.55 L110.20,404.55 L110.20,403.09 L110.80,403.09 L110.80,401.21 L111.40,401.21 L111.40,395.77 L112.00,395.77 L112.00,398.75 L112.60,398.75 L112.60,401.31 L113.20,401.31 L113.20,397.83 L113.80,397.83 L113.80,397.54 L114.40,397.54 L114.40,400.90 L115.00,400.90 L115.00,394.53 L115.60,394.53 L115.60,399.16 L116.20,399.16 L116.20,391.64 L116.80,391.64 L116.80,395.47 L117.40,395.47 L117.40,394.54 L118.00,394.54 L118.00,395.64 L118.60,395.64 L118.60,389.87 L119.20,389.87 L119.20,396.19 L119.80,396.19 L119.80,395.87 L120.40,395.87 L120.40,396.20 L121.00,396.20 L121.00,394.85 L121.60,394.85 L121.60,399.02 L122.20,399.02 L122.20,395.17 L122.80,395.17 L122.80,398.81 L123.40,398.81 L123.40,395.07 L124.00,395.07 L124.00,393.30 L124.60,393.30 L124.60,394.97 L125.20,394.97 L125.20,395.23 L125.80,395.23 L125.80,396.37 L126.40,396.37 L126.40,392.97 L127.00,392.97 L127.00,395.57 L127.60,395.57 L127.60,392.31 L128.20,392.31 L128.20,395.63 L128.80,395.63 L128.80,394.61 L129.40,394.61 L129.40,395.80 L130.00,395.80 L130.00,393.86 L130.60,393.86 L130.60,397.79 L131.20,397.79 L131.20,399.18 L131.80,399.18 L131.80,393.79 L132.40,393.79 L132.40,398.90 L133.00,398.90 L133.00,399.33 L133.60,399.33 L133.60,401.28 L134.20,401.28 L134.20,403.65 L134.80,403.65 L134.80,403.93 L135.40,403.93 L135.40,406.62 L136.00,406.62 L136.00,404.81 L136.60,404.81 L136.60,405.67 L137.20,405.67 L137.20,406.26 L137.80,406.26 L137.80,403.51 L138.40,403.51 L138.40,409.30 L139.00,409.30 L139.00,410.56 L139.60,410.56 L139.60,411.16 L140.20,411.16 L140.20,406.71 L140.80,406.71 L140.80,408.55 L141.40,408.55 L141.40,414.15 L142.00,414.15 L142.00,418.78 L142.60,418.78 L142.60,415.78 L143.20,415.78 L143.20,420.73 L143.80,420.73 L143.80,422.68 L144.40,422.68 L144.40,421.14 L145.00,421.14 L145.00,422.41 L145.60,422.41 L145.60,426.59 L146.20,426.59 L146.20,425.19 L146.80,425.19 L146.80,429.61 L147.40,429.61 L147.40,426.71 L148.00,426.71 L148.00,428.38 L148.60,428.38 L148.60,430.02 L149.20,430.02 L149.20,432.69 L149.80,432.69 L149.80,433.87 L150.40,433.87 L150.40,439.49 L151.00,439.49 L151.00,436.72 L151.60,436.72 L151.60,437.42 L152.20,437.42 L152.20,445.50 L152.80,445.50 L152.80,446.09 L153.40,446.09 L153.40,446.33 L154.00,446.33 L154.00,444.54 L154.60,444.54 L154.60,445.70 L155.20,445.70 L155.20,445.66 L155.80,445.66 L155.80,446.14 L156.40,446.14 L156.40,451.91 L157.00,451.91 L157.00,449.67 L157.60,449.67 L157.60,444.13 L158.20,444.13 L158.20,450.44 L158.80,450.44 L158.80,451.92 L159.40,451.92 L159.40,452.69 L160.00,452.69 L160.00,452.75 L160.60,452.75 L160.60,454.07 L161.20,454.07 L161.20,453.92 L161.80,453.92 L161.80,455.29 L162.40,455.29 L162.40,456.26 L163.00,456.26 L163.00,457.40 L163.60,457.40 L163.60,457.47 L164.20,457.47 L164.20,458.10 Z" fill="#E16FFF" stroke="none"/>
<path d="M85.30,446.78 V453.52 M85.90,445.86 V449.26 M86.50,447.12 V453.47 M88.90,441.25 V446.67 M90.70,442.09 V446.70 M91.90,440.21 V450.72 M94.90,438.67 V449.00 M95.50,438.08 V447.55 M96.10,439.62 V448.82 M96.70,437.74 V442.64 M97.30,436.31 V442.58 M100.90,430.58 V436.49 M103.90,413.97 V436.84 M106.30,413.43 V420.82 M106.90,411.81 V425.34 M111.10,401.21 V407.57 M111.70,395.77 V404.02 M112.90,401.31 V418.05 M115.90,399.16 V409.82 M117.10,395.47 V399.07 M117.70,394.54 V415.70 M120.10,395.87 V405.61 M121.90,399.02 V410.29 M124.30,393.30 V396.95 M126.70,392.97 V402.47 M130.30,393.86 V410.39 M132.70,398.90 V411.51 M133.90,401.28 V405.22 M134.50,403.65 V412.93 M136.90,405.67 V416.27 M143.50,420.73 V432.88 M144.10,422.68 V441.80 M145.90,426.59 V440.90 M147.10,429.61 V444.17 M148.30,428.38 V445.35 M151.30,436.72 V444.39 M152.50,445.50 V450.65 M157.30,449.67 V453.76 " stroke="#D000F2" stroke-width="0.55" stroke-opacity="0.55" fill="none"/>
<path d="M64.00,458.10 L64.00,457.86 L64.60,457.86 L64.60,454.81 L65.20,454.81 L65.20,455.32 L65.80,455.32 L65.80,456.67 L66.40,456.67 L66.40,457.84 L67.00,457.84 L67.00,457.89 L67.60,457.89 L67.60,457.96 L68.20,457.96 L68.20,457.94 L68.80,457.94 L68.80,457.94 L69.40,457.94 L69.40,457.86 L70.00,457.86 L70.00,457.90 L70.60,457.90 L70.60,457.39 L71.20,457.39 L71.20,455.30 L71.80,455.30 L71.80,455.20 L72.40,455.20 L72.40,457.36 L73.00,457.36 L73.00,457.96 L73.60,457.96 L73.60,457.94 L74.20,457.94 L74.20,457.94 L74.80,457.94 L74.80,456.79 L75.40,456.79 L75.40,454.97 L76.00,454.97 L76.00,455.17 L76.60,455.17 L76.60,456.09 L77.20,456.09 L77.20,456.58 L77.80,456.58 L77.80,456.46 L78.40,456.46 L78.40,455.62 L79.00,455.62 L79.00,453.47 L79.60,453.47 L79.60,454.21 L80.20,454.21 L80.20,454.04 L80.80,454.04 L80.80,453.41 L81.40,453.41 L81.40,452.46 L82.00,452.46 L82.00,452.75 L82.60,452.75 L82.60,451.16 L83.20,451.16 L83.20,451.26 L83.80,451.26 L83.80,450.50 L84.40,450.50 L84.40,449.55 L85.00,449.55 L85.00,446.78 L85.60,446.78 L85.60,445.86 L86.20,445.86 L86.20,447.12 L86.80,447.12 L86.80,448.82 L87.40,448.82 L87.40,445.04 L88.00,445.04 L88.00,444.09 L88.60,444.09 L88.60,441.25 L89.20,441.25 L89.20,442.84 L89.80,442.84 L89.80,440.65 L90.40,440.65 L90.40,442.09 L91.00,442.09 L91.00,434.02 L91.60,434.02 L91.60,440.21 L92.20,440.21 L92.20,439.49 L92.80,439.49 L92.80,438.86 L93.40,438.86 L93.40,442.34 L94.00,442.34 L94.00,437.92 L94.60,437.92 L94.60,438.67 L95.20,438.67 L95.20,438.08 L95.80,438.08 L95.80,439.62 L96.40,439.62 L96.40,437.74 L97.00,437.74 L97.00,436.31 L97.60,436.31 L97.60,435.59 L98.20,435.59 L98.20,434.56 L98.80,434.56 L98.80,433.79 L99.40,433.79 L99.40,433.93 L100.00,433.93 L100.00,431.61 L100.60,431.61 L100.60,430.58 L101.20,430.58 L101.20,422.14 L101.80,422.14 L101.80,426.02 L102.40,426.02 L102.40,421.52 L103.00,421.52 L103.00,417.40 L103.60,417.40 L103.60,413.97 L104.20,413.97 L104.20,411.22 L104.80,411.22 L104.80,412.07 L105.40,412.07 L105.40,412.21 L106.00,412.21 L106.00,413.43 L106.60,413.43 L106.60,411.81 L107.20,411.81 L107.20,411.13 L107.80,411.13 L107.80,410.86 L108.40,410.86 L108.40,407.70 L109.00,407.70 L109.00,407.28 L109.60,407.28 L109.60,404.55 L110.20,404.55 L110.20,403.09 L110.80,403.09 L110.80,401.21 L111.40,401.21 L111.40,395.77 L112.00,395.77 L112.00,398.75 L112.60,398.75 L112.60,401.31 L113.20,401.31 L113.20,397.83 L113.80,397.83 L113.80,397.54 L114.40,397.54 L114.40,400.90 L115.00,400.90 L115.00,394.53 L115.60,394.53 L115.60,399.16 L116.20,399.16 L116.20,391.64 L116.80,391.64 L116.80,395.47 L117.40,395.47 L117.40,394.54 L118.00,394.54 L118.00,395.64 L118.60,395.64 L118.60,389.87 L119.20,389.87 L119.20,396.19 L119.80,396.19 L119.80,395.87 L120.40,395.87 L120.40,396.20 L121.00,396.20 L121.00,394.85 L121.60,394.85 L121.60,399.02 L122.20,399.02 L122.20,395.17 L122.80,395.17 L122.80,398.81 L123.40,398.81 L123.40,395.07 L124.00,395.07 L124.00,393.30 L124.60,393.30 L124.60,394.97 L125.20,394.97 L125.20,395.23 L125.80,395.23 L125.80,396.37 L126.40,396.37 L126.40,392.97 L127.00,392.97 L127.00,395.57 L127.60,395.57 L127.60,392.31 L128.20,392.31 L128.20,395.63 L128.80,395.63 L128.80,394.61 L129.40,394.61 L129.40,395.80 L130.00,395.80 L130.00,393.86 L130.60,393.86 L130.60,397.79 L131.20,397.79 L131.20,399.18 L131.80,399.18 L131.80,393.79 L132.40,393.79 L132.40,398.90 L133.00,398.90 L133.00,399.33 L133.60,399.33 L133.60,401.28 L134.20,401.28 L134.20,403.65 L134.80,403.65 L134.80,403.93 L135.40,403.93 L135.40,406.62 L136.00,406.62 L136.00,404.81 L136.60,404.81 L136.60,405.67 L137.20,405.67 L137.20,406.26 L137.80,406.26 L137.80,403.51 L138.40,403.51 L138.40,409.30 L139.00,409.30 L139.00,410.56 L139.60,410.56 L139.60,411.16 L140.20,411.16 L140.20,406.71 L140.80,406.71 L140.80,408.55 L141.40,408.55 L141.40,414.15 L142.00,414.15 L142.00,418.78 L142.60,418.78 L142.60,415.78 L143.20,415.78 L143.20,420.73 L143.80,420.73 L143.80,422.68 L144.40,422.68 L144.40,421.14 L145.00,421.14 L145.00,422.41 L145.60,422.41 L145.60,426.59 L146.20,426.59 L146.20,425.19 L146.80,425.19 L146.80,429.61 L147.40,429.61 L147.40,426.71 L148.00,426.71 L148.00,428.38 L148.60,428.38 L148.60,430.02 L149.20,430.02 L149.20,432.69 L149.80,432.69 L149.80,433.87 L150.40,433.87 L150.40,439.49 L151.00,439.49 L151.00,436.72 L151.60,436.72 L151.60,437.42 L152.20,437.42 L152.20,445.50 L152.80,445.50 L152.80,446.09 L153.40,446.09 L153.40,446.33 L154.00,446.33 L154.00,444.54 L154.60,444.54 L154.60,445.70 L155.20,445.70 L155.20,445.66 L155.80,445.66 L155.80,446.14 L156.40,446.14 L156.40,451.91 L157.00,451.91 L157.00,449.67 L157.60,449.67 L157.60,444.13 L158.20,444.13 L158.20,450.44 L158.80,450.44 L158.80,451.92 L159.40,451.92 L159.40,452.69 L160.00,452.69 L160.00,452.75 L160.60,452.75 L160.60,454.07 L161.20,454.07 L161.20,453.92 L161.80,453.92 L161.80,455.29 L162.40,455.29 L162.40,456.26 L163.00,456.26 L163.00,457.40 L163.60,457.40 L163.60,457.47 L164.20,457.47 L164.20,458.10" fill="none" stroke="#D000F2" stroke-width="0.85" stroke-linejoin="miter" stroke-opacity="0.95"/>
<line x1="113.50" y1="384.80" x2="113.50" y2="398.00" stroke="#D000F2" stroke-width="0.8"/>
<line x1="130.00" y1="390.70" x2="130.00" y2="398.00" stroke="#D000F2" stroke-width="0.8"/>
<line x1="119.50" y1="393.00" x2="119.50" y2="397.00" stroke="#D000F2" stroke-width="0.8"/>
<line x1="108.50" y1="402.00" x2="108.50" y2="409.00" stroke="#D000F2" stroke-width="0.8"/>
<rect x="47.90" y="380.00" width="119.50" height="78.20" stroke="#6a6a6a" stroke-width="1.1" fill="none"/>
<line x1="77.50" y1="380.00" x2="77.50" y2="458.20" stroke="#5a5a5a" stroke-width="1.1"/>
<line x1="165.50" y1="380.00" x2="165.50" y2="458.20" stroke="#707070" stroke-width="1.0"/>
<line x1="77.50" y1="422.10" x2="165.50" y2="422.10" stroke="#383838" stroke-width="1.1"/>
<path d="M191.90,458.30 L191.90,458.21 L192.50,458.21 L192.50,456.12 L193.10,456.12 L193.10,456.21 L193.70,456.21 L193.70,456.47 L194.30,456.47 L194.30,456.12 L194.90,456.12 L194.90,456.43 L195.50,456.43 L195.50,454.88 L196.10,454.88 L196.10,455.64 L196.70,455.64 L196.70,456.47 L197.30,456.47 L197.30,455.96 L197.90,455.96 L197.90,456.39 L198.50,456.39 L198.50,455.03 L199.10,455.03 L199.10,455.65 L199.70,455.65 L199.70,455.26 L200.30,455.26 L200.30,455.78 L200.90,455.78 L200.90,455.83 L201.50,455.83 L201.50,454.86 L202.10,454.86 L202.10,455.21 L202.70,455.21 L202.70,455.32 L203.30,455.32 L203.30,456.42 L203.90,456.42 L203.90,457.19 L204.50,457.19 L204.50,458.18 L205.10,458.18 L205.10,458.22 L205.70,458.22 L205.70,458.18 L206.30,458.18 L206.30,458.21 L206.90,458.21 L206.90,458.18 L207.50,458.18 L207.50,458.17 L208.10,458.17 L208.10,458.22 L208.70,458.22 L208.70,458.07 L209.30,458.07 L209.30,457.39 L209.90,457.39 L209.90,457.40 L210.50,457.40 L210.50,456.87 L211.10,456.87 L211.10,455.89 L211.70,455.89 L211.70,456.69 L212.30,456.69 L212.30,455.83 L212.90,455.83 L212.90,455.88 L213.50,455.88 L213.50,454.76 L214.10,454.76 L214.10,456.01 L214.70,456.01 L214.70,455.30 L215.30,455.30 L215.30,455.64 L215.90,455.64 L215.90,455.28 L216.50,455.28 L216.50,453.88 L217.10,453.88 L217.10,453.79 L217.70,453.79 L217.70,453.18 L218.30,453.18 L218.30,452.91 L218.90,452.91 L218.90,452.52 L219.50,452.52 L219.50,452.76 L220.10,452.76 L220.10,453.14 L220.70,453.14 L220.70,451.71 L221.30,451.71 L221.30,452.46 L221.90,452.46 L221.90,452.14 L222.50,452.14 L222.50,455.54 L223.10,455.54 L223.10,449.35 L223.70,449.35 L223.70,448.74 L224.30,448.74 L224.30,453.86 L224.90,453.86 L224.90,449.09 L225.50,449.09 L225.50,450.88 L226.10,450.88 L226.10,453.94 L226.70,453.94 L226.70,455.73 L227.30,455.73 L227.30,450.08 L227.90,450.08 L227.90,451.05 L228.50,451.05 L228.50,449.13 L229.10,449.13 L229.10,446.32 L229.70,446.32 L229.70,447.39 L230.30,447.39 L230.30,448.27 L230.90,448.27 L230.90,444.38 L231.50,444.38 L231.50,443.57 L232.10,443.57 L232.10,436.75 L232.70,436.75 L232.70,441.25 L233.30,441.25 L233.30,439.20 L233.90,439.20 L233.90,437.55 L234.50,437.55 L234.50,435.28 L235.10,435.28 L235.10,433.54 L235.70,433.54 L235.70,433.96 L236.30,433.96 L236.30,433.06 L236.90,433.06 L236.90,431.10 L237.50,431.10 L237.50,429.88 L238.10,429.88 L238.10,427.44 L238.70,427.44 L238.70,421.92 L239.30,421.92 L239.30,416.46 L239.90,416.46 L239.90,423.64 L240.50,423.64 L240.50,426.14 L241.10,426.14 L241.10,429.50 L241.70,429.50 L241.70,427.58 L242.30,427.58 L242.30,425.99 L242.90,425.99 L242.90,424.45 L243.50,424.45 L243.50,416.74 L244.10,416.74 L244.10,419.85 L244.70,419.85 L244.70,414.17 L245.30,414.17 L245.30,417.79 L245.90,417.79 L245.90,415.91 L246.50,415.91 L246.50,408.49 L247.10,408.49 L247.10,408.23 L247.70,408.23 L247.70,404.46 L248.30,404.46 L248.30,401.42 L248.90,401.42 L248.90,396.42 L249.50,396.42 L249.50,400.76 L250.10,400.76 L250.10,396.57 L250.70,396.57 L250.70,394.23 L251.30,394.23 L251.30,396.69 L251.90,396.69 L251.90,394.68 L252.50,394.68 L252.50,395.64 L253.10,395.64 L253.10,398.15 L253.70,398.15 L253.70,395.13 L254.30,395.13 L254.30,395.22 L254.90,395.22 L254.90,390.61 L255.50,390.61 L255.50,394.28 L256.10,394.28 L256.10,396.15 L256.70,396.15 L256.70,395.94 L257.30,395.94 L257.30,400.54 L257.90,400.54 L257.90,394.99 L258.50,394.99 L258.50,398.26 L259.10,398.26 L259.10,394.24 L259.70,394.24 L259.70,394.59 L260.30,394.59 L260.30,398.52 L260.90,398.52 L260.90,398.70 L261.50,398.70 L261.50,394.59 L262.10,394.59 L262.10,395.29 L262.70,395.29 L262.70,394.24 L263.30,394.24 L263.30,397.61 L263.90,397.61 L263.90,394.93 L264.50,394.93 L264.50,393.67 L265.10,393.67 L265.10,395.83 L265.70,395.83 L265.70,394.03 L266.30,394.03 L266.30,395.15 L266.90,395.15 L266.90,394.96 L267.50,394.96 L267.50,396.21 L268.10,396.21 L268.10,390.64 L268.70,390.64 L268.70,390.18 L269.30,390.18 L269.30,394.29 L269.90,394.29 L269.90,397.81 L270.50,397.81 L270.50,394.24 L271.10,394.24 L271.10,399.05 L271.70,399.05 L271.70,395.96 L272.30,395.96 L272.30,397.20 L272.90,397.20 L272.90,397.31 L273.50,397.31 L273.50,392.17 L274.10,392.17 L274.10,394.84 L274.70,394.84 L274.70,394.69 L275.30,394.69 L275.30,398.64 L275.90,398.64 L275.90,396.53 L276.50,396.53 L276.50,401.94 L277.10,401.94 L277.10,398.00 L277.70,398.00 L277.70,401.30 L278.30,401.30 L278.30,405.39 L278.90,405.39 L278.90,402.67 L279.50,402.67 L279.50,402.02 L280.10,402.02 L280.10,407.38 L280.70,407.38 L280.70,404.40 L281.30,404.40 L281.30,414.54 L281.90,414.54 L281.90,406.75 L282.50,406.75 L282.50,408.91 L283.10,408.91 L283.10,414.05 L283.70,414.05 L283.70,418.48 L284.30,418.48 L284.30,424.55 L284.90,424.55 L284.90,423.08 L285.50,423.08 L285.50,425.52 L286.10,425.52 L286.10,427.01 L286.70,427.01 L286.70,431.15 L287.30,431.15 L287.30,433.08 L287.90,433.08 L287.90,433.21 L288.50,433.21 L288.50,434.80 L289.10,434.80 L289.10,436.56 L289.70,436.56 L289.70,437.28 L290.30,437.28 L290.30,438.16 L290.90,438.16 L290.90,442.02 L291.50,442.02 L291.50,446.33 L292.10,446.33 L292.10,444.80 L292.70,444.80 L292.70,446.50 L293.30,446.50 L293.30,448.32 L293.90,448.32 L293.90,453.22 L294.50,453.22 L294.50,450.65 L295.10,450.65 L295.10,453.98 L295.70,453.98 L295.70,454.59 L296.30,454.59 L296.30,455.37 L296.90,455.37 L296.90,456.59 L297.50,456.59 L297.50,454.21 L298.10,454.21 L298.10,453.72 L298.70,453.72 L298.70,457.60 L299.30,457.60 L299.30,458.30 Z" fill="#E16FFF" stroke="none"/>
<path d="M224.00,448.74 V453.24 M229.40,446.32 V449.62 M231.80,443.57 V447.99 M232.40,436.75 V443.69 M233.00,441.25 V446.10 M234.80,435.28 V438.69 M236.00,433.96 V442.86 M237.80,429.88 V437.29 M238.40,427.44 V438.85 M240.80,426.14 V429.43 M247.40,408.23 V413.78 M248.60,401.42 V421.42 M250.40,396.57 V401.37 M251.00,394.23 V399.09 M252.80,395.64 V399.99 M254.00,395.13 V402.52 M255.80,394.28 V406.53 M266.00,394.03 V398.48 M266.60,395.15 V403.93 M268.40,390.64 V410.45 M269.60,394.29 V398.40 M270.20,397.81 V408.66 M272.60,397.20 V409.63 M274.40,394.84 V410.70 M276.20,396.53 V411.20 M276.80,401.94 V420.55 M279.20,402.67 V412.65 M285.20,423.08 V440.84 M286.40,427.01 V445.44 M287.00,431.15 V441.82 M289.40,436.56 V442.34 M290.00,437.28 V445.69 M291.80,446.33 V450.80 M292.40,444.80 V452.81 " stroke="#D000F2" stroke-width="0.55" stroke-opacity="0.55" fill="none"/>
<path d="M191.90,458.30 L191.90,458.21 L192.50,458.21 L192.50,456.12 L193.10,456.12 L193.10,456.21 L193.70,456.21 L193.70,456.47 L194.30,456.47 L194.30,456.12 L194.90,456.12 L194.90,456.43 L195.50,456.43 L195.50,454.88 L196.10,454.88 L196.10,455.64 L196.70,455.64 L196.70,456.47 L197.30,456.47 L197.30,455.96 L197.90,455.96 L197.90,456.39 L198.50,456.39 L198.50,455.03 L199.10,455.03 L199.10,455.65 L199.70,455.65 L199.70,455.26 L200.30,455.26 L200.30,455.78 L200.90,455.78 L200.90,455.83 L201.50,455.83 L201.50,454.86 L202.10,454.86 L202.10,455.21 L202.70,455.21 L202.70,455.32 L203.30,455.32 L203.30,456.42 L203.90,456.42 L203.90,457.19 L204.50,457.19 L204.50,458.18 L205.10,458.18 L205.10,458.22 L205.70,458.22 L205.70,458.18 L206.30,458.18 L206.30,458.21 L206.90,458.21 L206.90,458.18 L207.50,458.18 L207.50,458.17 L208.10,458.17 L208.10,458.22 L208.70,458.22 L208.70,458.07 L209.30,458.07 L209.30,457.39 L209.90,457.39 L209.90,457.40 L210.50,457.40 L210.50,456.87 L211.10,456.87 L211.10,455.89 L211.70,455.89 L211.70,456.69 L212.30,456.69 L212.30,455.83 L212.90,455.83 L212.90,455.88 L213.50,455.88 L213.50,454.76 L214.10,454.76 L214.10,456.01 L214.70,456.01 L214.70,455.30 L215.30,455.30 L215.30,455.64 L215.90,455.64 L215.90,455.28 L216.50,455.28 L216.50,453.88 L217.10,453.88 L217.10,453.79 L217.70,453.79 L217.70,453.18 L218.30,453.18 L218.30,452.91 L218.90,452.91 L218.90,452.52 L219.50,452.52 L219.50,452.76 L220.10,452.76 L220.10,453.14 L220.70,453.14 L220.70,451.71 L221.30,451.71 L221.30,452.46 L221.90,452.46 L221.90,452.14 L222.50,452.14 L222.50,455.54 L223.10,455.54 L223.10,449.35 L223.70,449.35 L223.70,448.74 L224.30,448.74 L224.30,453.86 L224.90,453.86 L224.90,449.09 L225.50,449.09 L225.50,450.88 L226.10,450.88 L226.10,453.94 L226.70,453.94 L226.70,455.73 L227.30,455.73 L227.30,450.08 L227.90,450.08 L227.90,451.05 L228.50,451.05 L228.50,449.13 L229.10,449.13 L229.10,446.32 L229.70,446.32 L229.70,447.39 L230.30,447.39 L230.30,448.27 L230.90,448.27 L230.90,444.38 L231.50,444.38 L231.50,443.57 L232.10,443.57 L232.10,436.75 L232.70,436.75 L232.70,441.25 L233.30,441.25 L233.30,439.20 L233.90,439.20 L233.90,437.55 L234.50,437.55 L234.50,435.28 L235.10,435.28 L235.10,433.54 L235.70,433.54 L235.70,433.96 L236.30,433.96 L236.30,433.06 L236.90,433.06 L236.90,431.10 L237.50,431.10 L237.50,429.88 L238.10,429.88 L238.10,427.44 L238.70,427.44 L238.70,421.92 L239.30,421.92 L239.30,416.46 L239.90,416.46 L239.90,423.64 L240.50,423.64 L240.50,426.14 L241.10,426.14 L241.10,429.50 L241.70,429.50 L241.70,427.58 L242.30,427.58 L242.30,425.99 L242.90,425.99 L242.90,424.45 L243.50,424.45 L243.50,416.74 L244.10,416.74 L244.10,419.85 L244.70,419.85 L244.70,414.17 L245.30,414.17 L245.30,417.79 L245.90,417.79 L245.90,415.91 L246.50,415.91 L246.50,408.49 L247.10,408.49 L247.10,408.23 L247.70,408.23 L247.70,404.46 L248.30,404.46 L248.30,401.42 L248.90,401.42 L248.90,396.42 L249.50,396.42 L249.50,400.76 L250.10,400.76 L250.10,396.57 L250.70,396.57 L250.70,394.23 L251.30,394.23 L251.30,396.69 L251.90,396.69 L251.90,394.68 L252.50,394.68 L252.50,395.64 L253.10,395.64 L253.10,398.15 L253.70,398.15 L253.70,395.13 L254.30,395.13 L254.30,395.22 L254.90,395.22 L254.90,390.61 L255.50,390.61 L255.50,394.28 L256.10,394.28 L256.10,396.15 L256.70,396.15 L256.70,395.94 L257.30,395.94 L257.30,400.54 L257.90,400.54 L257.90,394.99 L258.50,394.99 L258.50,398.26 L259.10,398.26 L259.10,394.24 L259.70,394.24 L259.70,394.59 L260.30,394.59 L260.30,398.52 L260.90,398.52 L260.90,398.70 L261.50,398.70 L261.50,394.59 L262.10,394.59 L262.10,395.29 L262.70,395.29 L262.70,394.24 L263.30,394.24 L263.30,397.61 L263.90,397.61 L263.90,394.93 L264.50,394.93 L264.50,393.67 L265.10,393.67 L265.10,395.83 L265.70,395.83 L265.70,394.03 L266.30,394.03 L266.30,395.15 L266.90,395.15 L266.90,394.96 L267.50,394.96 L267.50,396.21 L268.10,396.21 L268.10,390.64 L268.70,390.64 L268.70,390.18 L269.30,390.18 L269.30,394.29 L269.90,394.29 L269.90,397.81 L270.50,397.81 L270.50,394.24 L271.10,394.24 L271.10,399.05 L271.70,399.05 L271.70,395.96 L272.30,395.96 L272.30,397.20 L272.90,397.20 L272.90,397.31 L273.50,397.31 L273.50,392.17 L274.10,392.17 L274.10,394.84 L274.70,394.84 L274.70,394.69 L275.30,394.69 L275.30,398.64 L275.90,398.64 L275.90,396.53 L276.50,396.53 L276.50,401.94 L277.10,401.94 L277.10,398.00 L277.70,398.00 L277.70,401.30 L278.30,401.30 L278.30,405.39 L278.90,405.39 L278.90,402.67 L279.50,402.67 L279.50,402.02 L280.10,402.02 L280.10,407.38 L280.70,407.38 L280.70,404.40 L281.30,404.40 L281.30,414.54 L281.90,414.54 L281.90,406.75 L282.50,406.75 L282.50,408.91 L283.10,408.91 L283.10,414.05 L283.70,414.05 L283.70,418.48 L284.30,418.48 L284.30,424.55 L284.90,424.55 L284.90,423.08 L285.50,423.08 L285.50,425.52 L286.10,425.52 L286.10,427.01 L286.70,427.01 L286.70,431.15 L287.30,431.15 L287.30,433.08 L287.90,433.08 L287.90,433.21 L288.50,433.21 L288.50,434.80 L289.10,434.80 L289.10,436.56 L289.70,436.56 L289.70,437.28 L290.30,437.28 L290.30,438.16 L290.90,438.16 L290.90,442.02 L291.50,442.02 L291.50,446.33 L292.10,446.33 L292.10,444.80 L292.70,444.80 L292.70,446.50 L293.30,446.50 L293.30,448.32 L293.90,448.32 L293.90,453.22 L294.50,453.22 L294.50,450.65 L295.10,450.65 L295.10,453.98 L295.70,453.98 L295.70,454.59 L296.30,454.59 L296.30,455.37 L296.90,455.37 L296.90,456.59 L297.50,456.59 L297.50,454.21 L298.10,454.21 L298.10,453.72 L298.70,453.72 L298.70,457.60 L299.30,457.60 L299.30,458.30" fill="none" stroke="#D000F2" stroke-width="0.85" stroke-linejoin="miter" stroke-opacity="0.95"/>
<line x1="224.80" y1="447.00" x2="224.80" y2="452.00" stroke="#D000F2" stroke-width="0.8"/>
<rect x="180.50" y="380.00" width="117.90" height="78.40" stroke="#6a6a6a" stroke-width="1.1" fill="none"/>
<line x1="208.00" y1="380.00" x2="208.00" y2="458.40" stroke="#5a5a5a" stroke-width="1.1"/>
<line x1="297.70" y1="380.00" x2="297.70" y2="458.40" stroke="#707070" stroke-width="1.0"/>
<line x1="208.00" y1="449.10" x2="297.70" y2="449.10" stroke="#383838" stroke-width="1.1"/>
<path d="M323.00,458.10 L323.00,458.02 L323.60,458.02 L323.60,456.76 L324.20,456.76 L324.20,456.38 L324.80,456.38 L324.80,456.13 L325.40,456.13 L325.40,455.83 L326.00,455.83 L326.00,456.58 L326.60,456.58 L326.60,456.37 L327.20,456.37 L327.20,456.69 L327.80,456.69 L327.80,456.26 L328.40,456.26 L328.40,456.71 L329.00,456.71 L329.00,456.14 L329.60,456.14 L329.60,456.74 L330.20,456.74 L330.20,456.66 L330.80,456.66 L330.80,456.30 L331.40,456.30 L331.40,456.44 L332.00,456.44 L332.00,456.61 L332.60,456.61 L332.60,456.05 L333.20,456.05 L333.20,456.46 L333.80,456.46 L333.80,456.75 L334.40,456.75 L334.40,456.13 L335.00,456.13 L335.00,456.74 L335.60,456.74 L335.60,456.61 L336.20,456.61 L336.20,456.79 L336.80,456.79 L336.80,456.21 L337.40,456.21 L337.40,455.94 L338.00,455.94 L338.00,456.74 L338.60,456.74 L338.60,456.75 L339.20,456.75 L339.20,456.34 L339.80,456.34 L339.80,457.97 L340.40,457.97 L340.40,457.98 L341.00,457.98 L341.00,458.01 L341.60,458.01 L341.60,457.99 L342.20,457.99 L342.20,457.92 L342.80,457.92 L342.80,457.65 L343.40,457.65 L343.40,457.25 L344.00,457.25 L344.00,457.26 L344.60,457.26 L344.60,456.82 L345.20,456.82 L345.20,457.11 L345.80,457.11 L345.80,456.92 L346.40,456.92 L346.40,456.27 L347.00,456.27 L347.00,456.24 L347.60,456.24 L347.60,456.12 L348.20,456.12 L348.20,456.11 L348.80,456.11 L348.80,456.25 L349.40,456.25 L349.40,454.26 L350.00,454.26 L350.00,454.76 L350.60,454.76 L350.60,455.10 L351.20,455.10 L351.20,454.36 L351.80,454.36 L351.80,454.79 L352.40,454.79 L352.40,453.65 L353.00,453.65 L353.00,455.01 L353.60,455.01 L353.60,454.00 L354.20,454.00 L354.20,452.88 L354.80,452.88 L354.80,453.68 L355.40,453.68 L355.40,452.67 L356.00,452.67 L356.00,452.14 L356.60,452.14 L356.60,452.42 L357.20,452.42 L357.20,451.43 L357.80,451.43 L357.80,451.27 L358.40,451.27 L358.40,452.17 L359.00,452.17 L359.00,452.06 L359.60,452.06 L359.60,455.50 L360.20,455.50 L360.20,449.76 L360.80,449.76 L360.80,454.85 L361.40,454.85 L361.40,450.83 L362.00,450.83 L362.00,449.64 L362.60,449.64 L362.60,449.48 L363.20,449.48 L363.20,446.68 L363.80,446.68 L363.80,451.67 L364.40,451.67 L364.40,444.81 L365.00,444.81 L365.00,446.71 L365.60,446.71 L365.60,443.98 L366.20,443.98 L366.20,445.28 L366.80,445.28 L366.80,445.51 L367.40,445.51 L367.40,444.64 L368.00,444.64 L368.00,442.71 L368.60,442.71 L368.60,437.76 L369.20,437.76 L369.20,430.10 L369.80,430.10 L369.80,429.14 L370.40,429.14 L370.40,436.80 L371.00,436.80 L371.00,436.32 L371.60,436.32 L371.60,435.58 L372.20,435.58 L372.20,435.38 L372.80,435.38 L372.80,431.16 L373.40,431.16 L373.40,433.53 L374.00,433.53 L374.00,435.96 L374.60,435.96 L374.60,429.34 L375.20,429.34 L375.20,429.44 L375.80,429.44 L375.80,431.91 L376.40,431.91 L376.40,426.18 L377.00,426.18 L377.00,423.19 L377.60,423.19 L377.60,421.54 L378.20,421.54 L378.20,422.05 L378.80,422.05 L378.80,423.22 L379.40,423.22 L379.40,424.39 L380.00,424.39 L380.00,417.45 L380.60,417.45 L380.60,424.43 L381.20,424.43 L381.20,424.90 L381.80,424.90 L381.80,423.00 L382.40,423.00 L382.40,420.54 L383.00,420.54 L383.00,420.81 L383.60,420.81 L383.60,416.40 L384.20,416.40 L384.20,419.84 L384.80,419.84 L384.80,420.11 L385.40,420.11 L385.40,416.49 L386.00,416.49 L386.00,416.09 L386.60,416.09 L386.60,413.90 L387.20,413.90 L387.20,411.58 L387.80,411.58 L387.80,409.53 L388.40,409.53 L388.40,408.57 L389.00,408.57 L389.00,412.79 L389.60,412.79 L389.60,408.56 L390.20,408.56 L390.20,411.36 L390.80,411.36 L390.80,408.13 L391.40,408.13 L391.40,404.67 L392.00,404.67 L392.00,407.96 L392.60,407.96 L392.60,409.70 L393.20,409.70 L393.20,408.10 L393.80,408.10 L393.80,403.22 L394.40,403.22 L394.40,403.71 L395.00,403.71 L395.00,400.47 L395.60,400.47 L395.60,404.46 L396.20,404.46 L396.20,401.10 L396.80,401.10 L396.80,398.66 L397.40,398.66 L397.40,396.75 L398.00,396.75 L398.00,392.38 L398.60,392.38 L398.60,397.56 L399.20,397.56 L399.20,395.48 L399.80,395.48 L399.80,394.69 L400.40,394.69 L400.40,394.42 L401.00,394.42 L401.00,392.05 L401.60,392.05 L401.60,398.08 L402.20,398.08 L402.20,399.76 L402.80,399.76 L402.80,396.20 L403.40,396.20 L403.40,403.56 L404.00,403.56 L404.00,402.77 L404.60,402.77 L404.60,405.84 L405.20,405.84 L405.20,407.02 L405.80,407.02 L405.80,404.71 L406.40,404.71 L406.40,406.25 L407.00,406.25 L407.00,407.53 L407.60,407.53 L407.60,408.73 L408.20,408.73 L408.20,409.23 L408.80,409.23 L408.80,408.61 L409.40,408.61 L409.40,412.47 L410.00,412.47 L410.00,408.07 L410.60,408.07 L410.60,417.77 L411.20,417.77 L411.20,416.66 L411.80,416.66 L411.80,419.62 L412.40,419.62 L412.40,420.08 L413.00,420.08 L413.00,423.43 L413.60,423.43 L413.60,425.76 L414.20,425.76 L414.20,425.88 L414.80,425.88 L414.80,427.16 L415.40,427.16 L415.40,434.72 L416.00,434.72 L416.00,435.90 L416.60,435.90 L416.60,437.41 L417.20,437.41 L417.20,439.65 L417.80,439.65 L417.80,439.78 L418.40,439.78 L418.40,435.71 L419.00,435.71 L419.00,443.82 L419.60,443.82 L419.60,444.39 L420.20,444.39 L420.20,447.01 L420.80,447.01 L420.80,453.51 L421.40,453.51 L421.40,454.50 L422.00,454.50 L422.00,450.90 L422.60,450.90 L422.60,449.01 L423.20,449.01 L423.20,452.76 L423.80,452.76 L423.80,453.40 L424.40,453.40 L424.40,454.36 L425.00,454.36 L425.00,453.64 L425.60,453.64 L425.60,455.26 L426.20,455.26 L426.20,455.54 L426.80,455.54 L426.80,455.27 L427.40,455.27 L427.40,456.81 L428.00,456.81 L428.00,456.78 L428.60,456.78 L428.60,457.25 L429.20,457.25 L429.20,457.74 L429.80,457.74 L429.80,458.10 Z" fill="#E16FFF" stroke="none"/>
<path d="M362.30,449.64 V453.44 M365.30,446.71 V451.36 M376.70,426.18 V433.67 M379.70,424.39 V429.31 M381.50,424.90 V432.35 M382.10,423.00 V430.80 M388.70,408.57 V411.90 M389.30,412.79 V427.13 M390.50,411.36 V431.60 M392.90,409.70 V430.16 M393.50,408.10 V413.72 M395.30,400.47 V409.54 M395.90,404.46 V410.42 M396.50,401.10 V404.62 M397.10,398.66 V408.86 M401.30,392.05 V398.95 M401.90,398.08 V415.80 M402.50,399.76 V407.66 M406.10,404.71 V427.78 M409.10,408.61 V425.78 M418.70,435.71 V447.99 M419.30,443.82 V450.02 " stroke="#D000F2" stroke-width="0.55" stroke-opacity="0.55" fill="none"/>
<path d="M323.00,458.10 L323.00,458.02 L323.60,458.02 L323.60,456.76 L324.20,456.76 L324.20,456.38 L324.80,456.38 L324.80,456.13 L325.40,456.13 L325.40,455.83 L326.00,455.83 L326.00,456.58 L326.60,456.58 L326.60,456.37 L327.20,456.37 L327.20,456.69 L327.80,456.69 L327.80,456.26 L328.40,456.26 L328.40,456.71 L329.00,456.71 L329.00,456.14 L329.60,456.14 L329.60,456.74 L330.20,456.74 L330.20,456.66 L330.80,456.66 L330.80,456.30 L331.40,456.30 L331.40,456.44 L332.00,456.44 L332.00,456.61 L332.60,456.61 L332.60,456.05 L333.20,456.05 L333.20,456.46 L333.80,456.46 L333.80,456.75 L334.40,456.75 L334.40,456.13 L335.00,456.13 L335.00,456.74 L335.60,456.74 L335.60,456.61 L336.20,456.61 L336.20,456.79 L336.80,456.79 L336.80,456.21 L337.40,456.21 L337.40,455.94 L338.00,455.94 L338.00,456.74 L338.60,456.74 L338.60,456.75 L339.20,456.75 L339.20,456.34 L339.80,456.34 L339.80,457.97 L340.40,457.97 L340.40,457.98 L341.00,457.98 L341.00,458.01 L341.60,458.01 L341.60,457.99 L342.20,457.99 L342.20,457.92 L342.80,457.92 L342.80,457.65 L343.40,457.65 L343.40,457.25 L344.00,457.25 L344.00,457.26 L344.60,457.26 L344.60,456.82 L345.20,456.82 L345.20,457.11 L345.80,457.11 L345.80,456.92 L346.40,456.92 L346.40,456.27 L347.00,456.27 L347.00,456.24 L347.60,456.24 L347.60,456.12 L348.20,456.12 L348.20,456.11 L348.80,456.11 L348.80,456.25 L349.40,456.25 L349.40,454.26 L350.00,454.26 L350.00,454.76 L350.60,454.76 L350.60,455.10 L351.20,455.10 L351.20,454.36 L351.80,454.36 L351.80,454.79 L352.40,454.79 L352.40,453.65 L353.00,453.65 L353.00,455.01 L353.60,455.01 L353.60,454.00 L354.20,454.00 L354.20,452.88 L354.80,452.88 L354.80,453.68 L355.40,453.68 L355.40,452.67 L356.00,452.67 L356.00,452.14 L356.60,452.14 L356.60,452.42 L357.20,452.42 L357.20,451.43 L357.80,451.43 L357.80,451.27 L358.40,451.27 L358.40,452.17 L359.00,452.17 L359.00,452.06 L359.60,452.06 L359.60,455.50 L360.20,455.50 L360.20,449.76 L360.80,449.76 L360.80,454.85 L361.40,454.85 L361.40,450.83 L362.00,450.83 L362.00,449.64 L362.60,449.64 L362.60,449.48 L363.20,449.48 L363.20,446.68 L363.80,446.68 L363.80,451.67 L364.40,451.67 L364.40,444.81 L365.00,444.81 L365.00,446.71 L365.60,446.71 L365.60,443.98 L366.20,443.98 L366.20,445.28 L366.80,445.28 L366.80,445.51 L367.40,445.51 L367.40,444.64 L368.00,444.64 L368.00,442.71 L368.60,442.71 L368.60,437.76 L369.20,437.76 L369.20,430.10 L369.80,430.10 L369.80,429.14 L370.40,429.14 L370.40,436.80 L371.00,436.80 L371.00,436.32 L371.60,436.32 L371.60,435.58 L372.20,435.58 L372.20,435.38 L372.80,435.38 L372.80,431.16 L373.40,431.16 L373.40,433.53 L374.00,433.53 L374.00,435.96 L374.60,435.96 L374.60,429.34 L375.20,429.34 L375.20,429.44 L375.80,429.44 L375.80,431.91 L376.40,431.91 L376.40,426.18 L377.00,426.18 L377.00,423.19 L377.60,423.19 L377.60,421.54 L378.20,421.54 L378.20,422.05 L378.80,422.05 L378.80,423.22 L379.40,423.22 L379.40,424.39 L380.00,424.39 L380.00,417.45 L380.60,417.45 L380.60,424.43 L381.20,424.43 L381.20,424.90 L381.80,424.90 L381.80,423.00 L382.40,423.00 L382.40,420.54 L383.00,420.54 L383.00,420.81 L383.60,420.81 L383.60,416.40 L384.20,416.40 L384.20,419.84 L384.80,419.84 L384.80,420.11 L385.40,420.11 L385.40,416.49 L386.00,416.49 L386.00,416.09 L386.60,416.09 L386.60,413.90 L387.20,413.90 L387.20,411.58 L387.80,411.58 L387.80,409.53 L388.40,409.53 L388.40,408.57 L389.00,408.57 L389.00,412.79 L389.60,412.79 L389.60,408.56 L390.20,408.56 L390.20,411.36 L390.80,411.36 L390.80,408.13 L391.40,408.13 L391.40,404.67 L392.00,404.67 L392.00,407.96 L392.60,407.96 L392.60,409.70 L393.20,409.70 L393.20,408.10 L393.80,408.10 L393.80,403.22 L394.40,403.22 L394.40,403.71 L395.00,403.71 L395.00,400.47 L395.60,400.47 L395.60,404.46 L396.20,404.46 L396.20,401.10 L396.80,401.10 L396.80,398.66 L397.40,398.66 L397.40,396.75 L398.00,396.75 L398.00,392.38 L398.60,392.38 L398.60,397.56 L399.20,397.56 L399.20,395.48 L399.80,395.48 L399.80,394.69 L400.40,394.69 L400.40,394.42 L401.00,394.42 L401.00,392.05 L401.60,392.05 L401.60,398.08 L402.20,398.08 L402.20,399.76 L402.80,399.76 L402.80,396.20 L403.40,396.20 L403.40,403.56 L404.00,403.56 L404.00,402.77 L404.60,402.77 L404.60,405.84 L405.20,405.84 L405.20,407.02 L405.80,407.02 L405.80,404.71 L406.40,404.71 L406.40,406.25 L407.00,406.25 L407.00,407.53 L407.60,407.53 L407.60,408.73 L408.20,408.73 L408.20,409.23 L408.80,409.23 L408.80,408.61 L409.40,408.61 L409.40,412.47 L410.00,412.47 L410.00,408.07 L410.60,408.07 L410.60,417.77 L411.20,417.77 L411.20,416.66 L411.80,416.66 L411.80,419.62 L412.40,419.62 L412.40,420.08 L413.00,420.08 L413.00,423.43 L413.60,423.43 L413.60,425.76 L414.20,425.76 L414.20,425.88 L414.80,425.88 L414.80,427.16 L415.40,427.16 L415.40,434.72 L416.00,434.72 L416.00,435.90 L416.60,435.90 L416.60,437.41 L417.20,437.41 L417.20,439.65 L417.80,439.65 L417.80,439.78 L418.40,439.78 L418.40,435.71 L419.00,435.71 L419.00,443.82 L419.60,443.82 L419.60,444.39 L420.20,444.39 L420.20,447.01 L420.80,447.01 L420.80,453.51 L421.40,453.51 L421.40,454.50 L422.00,454.50 L422.00,450.90 L422.60,450.90 L422.60,449.01 L423.20,449.01 L423.20,452.76 L423.80,452.76 L423.80,453.40 L424.40,453.40 L424.40,454.36 L425.00,454.36 L425.00,453.64 L425.60,453.64 L425.60,455.26 L426.20,455.26 L426.20,455.54 L426.80,455.54 L426.80,455.27 L427.40,455.27 L427.40,456.81 L428.00,456.81 L428.00,456.78 L428.60,456.78 L428.60,457.25 L429.20,457.25 L429.20,457.74 L429.80,457.74 L429.80,458.10" fill="none" stroke="#D000F2" stroke-width="0.85" stroke-linejoin="miter" stroke-opacity="0.95"/>
<rect x="312.70" y="379.50" width="118.90" height="78.70" stroke="#6a6a6a" stroke-width="1.1" fill="none"/>
<line x1="341.40" y1="379.50" x2="341.40" y2="458.20" stroke="#5a5a5a" stroke-width="1.1"/>
<line x1="430.50" y1="379.50" x2="430.50" y2="458.20" stroke="#707070" stroke-width="1.0"/>
<line x1="341.40" y1="433.40" x2="430.50" y2="433.40" stroke="#383838" stroke-width="1.1"/>
<text x="115.89" y="393.00" font-size="13.43" font-weight="bold" fill="#111" textLength="45.68" lengthAdjust="spacingAndGlyphs" stroke="#111" stroke-width="0.3">409B2</text>
<text x="114.12" y="408.90" font-size="18.00" font-weight="bold" fill="#111" textLength="48.42" lengthAdjust="spacingAndGlyphs" stroke="#111" stroke-width="0.3">99.1%</text>
<text x="249.85" y="392.70" font-size="13.57" font-weight="bold" fill="#111" textLength="47.32" lengthAdjust="spacingAndGlyphs" stroke="#111" stroke-width="0.3">SQT22</text>
<text x="248.30" y="408.50" font-size="17.00" font-weight="bold" fill="#111" textLength="49.34" lengthAdjust="spacingAndGlyphs" stroke="#111" stroke-width="0.3">98.5%</text>
<text x="381.87" y="392.70" font-size="13.57" font-weight="bold" fill="#111" textLength="45.95" lengthAdjust="spacingAndGlyphs" stroke="#111" stroke-width="0.3">LQT26</text>
<text x="380.11" y="408.50" font-size="17.00" font-weight="bold" fill="#111" textLength="48.62" lengthAdjust="spacingAndGlyphs" stroke="#111" stroke-width="0.3">98.8%</text>
<text x="0" y="0" font-size="6.4" fill="#4a4a4a" stroke="#4a4a4a" stroke-width="0.18" text-anchor="middle" textLength="9.3" lengthAdjust="spacingAndGlyphs" transform="translate(48.1,122.1) rotate(-90)">250</text>
<text x="0" y="0" font-size="6.4" fill="#4a4a4a" stroke="#4a4a4a" stroke-width="0.18" text-anchor="middle" textLength="9.3" lengthAdjust="spacingAndGlyphs" transform="translate(48.1,136.3) rotate(-90)">200</text>
<text x="0" y="0" font-size="6.4" fill="#4a4a4a" stroke="#4a4a4a" stroke-width="0.18" text-anchor="middle" textLength="9.3" lengthAdjust="spacingAndGlyphs" transform="translate(48.1,150.5) rotate(-90)">150</text>
<text x="0" y="0" font-size="6.4" fill="#4a4a4a" stroke="#4a4a4a" stroke-width="0.18" text-anchor="middle" textLength="9.3" lengthAdjust="spacingAndGlyphs" transform="translate(48.1,164.7) rotate(-90)">100</text>
<text x="0" y="0" font-size="6.4" fill="#4a4a4a" stroke="#4a4a4a" stroke-width="0.18" text-anchor="middle" textLength="6.2" lengthAdjust="spacingAndGlyphs" transform="translate(48.1,178.9) rotate(-90)">50</text>
<text x="0" y="0" font-size="6.4" fill="#4a4a4a" stroke="#4a4a4a" stroke-width="0.18" text-anchor="middle" textLength="3.1" lengthAdjust="spacingAndGlyphs" transform="translate(48.1,193.1) rotate(-90)">0</text>
<text x="0" y="0" font-size="6.4" fill="#4a4a4a" stroke="#4a4a4a" stroke-width="0.18" text-anchor="middle" textLength="9.3" lengthAdjust="spacingAndGlyphs" transform="translate(178.7,129.2) rotate(-90)">200</text>
<text x="0" y="0" font-size="6.4" fill="#4a4a4a" stroke="#4a4a4a" stroke-width="0.18" text-anchor="middle" textLength="9.3" lengthAdjust="spacingAndGlyphs" transform="translate(178.7,145.3) rotate(-90)">150</text>
<text x="0" y="0" font-size="6.4" fill="#4a4a4a" stroke="#4a4a4a" stroke-width="0.18" text-anchor="middle" textLength="9.3" lengthAdjust="spacingAndGlyphs" transform="translate(178.7,161.4) rotate(-90)">100</text>
<text x="0" y="0" font-size="6.4" fill="#4a4a4a" stroke="#4a4a4a" stroke-width="0.18" text-anchor="middle" textLength="6.2" lengthAdjust="spacingAndGlyphs" transform="translate(178.7,177.5) rotate(-90)">50</text>
<text x="0" y="0" font-size="6.4" fill="#4a4a4a" stroke="#4a4a4a" stroke-width="0.18" text-anchor="middle" textLength="3.1" lengthAdjust="spacingAndGlyphs" transform="translate(178.7,193.6) rotate(-90)">0</text>
<text x="0" y="0" font-size="6.4" fill="#4a4a4a" stroke="#4a4a4a" stroke-width="0.18" text-anchor="middle" textLength="9.3" lengthAdjust="spacingAndGlyphs" transform="translate(308.5,131.5) rotate(-90)">200</text>
<text x="0" y="0" font-size="6.4" fill="#4a4a4a" stroke="#4a4a4a" stroke-width="0.18" text-anchor="middle" textLength="9.3" lengthAdjust="spacingAndGlyphs" transform="translate(308.5,147.1) rotate(-90)">150</text>
<text x="0" y="0" font-size="6.4" fill="#4a4a4a" stroke="#4a4a4a" stroke-width="0.18" text-anchor="middle" textLength="9.3" lengthAdjust="spacingAndGlyphs" transform="translate(308.5,162.6) rotate(-90)">100</text>
<text x="0" y="0" font-size="6.4" fill="#4a4a4a" stroke="#4a4a4a" stroke-width="0.18" text-anchor="middle" textLength="6.2" lengthAdjust="spacingAndGlyphs" transform="translate(308.5,178.2) rotate(-90)">50</text>
<text x="0" y="0" font-size="6.4" fill="#4a4a4a" stroke="#4a4a4a" stroke-width="0.18" text-anchor="middle" textLength="3.1" lengthAdjust="spacingAndGlyphs" transform="translate(308.5,193.8) rotate(-90)">0</text>
<line x1="49.60" y1="116.70" x2="51.20" y2="116.70" stroke="#aaa" stroke-width="0.6"/>
<line x1="49.60" y1="119.56" x2="51.20" y2="119.56" stroke="#aaa" stroke-width="0.6"/>
<line x1="49.60" y1="122.42" x2="51.20" y2="122.42" stroke="#aaa" stroke-width="0.6"/>
<line x1="49.60" y1="125.28" x2="51.20" y2="125.28" stroke="#aaa" stroke-width="0.6"/>
<line x1="49.60" y1="128.14" x2="51.20" y2="128.14" stroke="#aaa" stroke-width="0.6"/>
<line x1="49.60" y1="131.00" x2="51.20" y2="131.00" stroke="#aaa" stroke-width="0.6"/>
<line x1="49.60" y1="133.86" x2="51.20" y2="133.86" stroke="#aaa" stroke-width="0.6"/>
<line x1="49.60" y1="136.71" x2="51.20" y2="136.71" stroke="#aaa" stroke-width="0.6"/>
<line x1="49.60" y1="139.57" x2="51.20" y2="139.57" stroke="#aaa" stroke-width="0.6"/>
<line x1="49.60" y1="142.43" x2="51.20" y2="142.43" stroke="#aaa" stroke-width="0.6"/>
<line x1="49.60" y1="145.29" x2="51.20" y2="145.29" stroke="#aaa" stroke-width="0.6"/>
<line x1="49.60" y1="148.15" x2="51.20" y2="148.15" stroke="#aaa" stroke-width="0.6"/>
<line x1="49.60" y1="151.01" x2="51.20" y2="151.01" stroke="#aaa" stroke-width="0.6"/>
<line x1="49.60" y1="153.87" x2="51.20" y2="153.87" stroke="#aaa" stroke-width="0.6"/>
<line x1="49.60" y1="156.73" x2="51.20" y2="156.73" stroke="#aaa" stroke-width="0.6"/>
<line x1="49.60" y1="159.59" x2="51.20" y2="159.59" stroke="#aaa" stroke-width="0.6"/>
<line x1="49.60" y1="162.45" x2="51.20" y2="162.45" stroke="#aaa" stroke-width="0.6"/>
<line x1="49.60" y1="165.31" x2="51.20" y2="165.31" stroke="#aaa" stroke-width="0.6"/>
<line x1="49.60" y1="168.17" x2="51.20" y2="168.17" stroke="#aaa" stroke-width="0.6"/>
<line x1="49.60" y1="171.03" x2="51.20" y2="171.03" stroke="#aaa" stroke-width="0.6"/>
<line x1="49.60" y1="173.89" x2="51.20" y2="173.89" stroke="#aaa" stroke-width="0.6"/>
<line x1="49.60" y1="176.74" x2="51.20" y2="176.74" stroke="#aaa" stroke-width="0.6"/>
<line x1="49.60" y1="179.60" x2="51.20" y2="179.60" stroke="#aaa" stroke-width="0.6"/>
<line x1="49.60" y1="182.46" x2="51.20" y2="182.46" stroke="#aaa" stroke-width="0.6"/>
<line x1="49.60" y1="185.32" x2="51.20" y2="185.32" stroke="#aaa" stroke-width="0.6"/>
<line x1="49.60" y1="188.18" x2="51.20" y2="188.18" stroke="#aaa" stroke-width="0.6"/>
<line x1="49.60" y1="191.04" x2="51.20" y2="191.04" stroke="#aaa" stroke-width="0.6"/>
<line x1="49.60" y1="193.90" x2="51.20" y2="193.90" stroke="#aaa" stroke-width="0.6"/>
<line x1="180.10" y1="116.70" x2="181.70" y2="116.70" stroke="#aaa" stroke-width="0.6"/>
<line x1="180.10" y1="119.92" x2="181.70" y2="119.92" stroke="#aaa" stroke-width="0.6"/>
<line x1="180.10" y1="123.13" x2="181.70" y2="123.13" stroke="#aaa" stroke-width="0.6"/>
<line x1="180.10" y1="126.35" x2="181.70" y2="126.35" stroke="#aaa" stroke-width="0.6"/>
<line x1="180.10" y1="129.57" x2="181.70" y2="129.57" stroke="#aaa" stroke-width="0.6"/>
<line x1="180.10" y1="132.78" x2="181.70" y2="132.78" stroke="#aaa" stroke-width="0.6"/>
<line x1="180.10" y1="136.00" x2="181.70" y2="136.00" stroke="#aaa" stroke-width="0.6"/>
<line x1="180.10" y1="139.22" x2="181.70" y2="139.22" stroke="#aaa" stroke-width="0.6"/>
<line x1="180.10" y1="142.43" x2="181.70" y2="142.43" stroke="#aaa" stroke-width="0.6"/>
<line x1="180.10" y1="145.65" x2="181.70" y2="145.65" stroke="#aaa" stroke-width="0.6"/>
<line x1="180.10" y1="148.87" x2="181.70" y2="148.87" stroke="#aaa" stroke-width="0.6"/>
<line x1="180.10" y1="152.08" x2="181.70" y2="152.08" stroke="#aaa" stroke-width="0.6"/>
<line x1="180.10" y1="155.30" x2="181.70" y2="155.30" stroke="#aaa" stroke-width="0.6"/>
<line x1="180.10" y1="158.52" x2="181.70" y2="158.52" stroke="#aaa" stroke-width="0.6"/>
<line x1="180.10" y1="161.73" x2="181.70" y2="161.73" stroke="#aaa" stroke-width="0.6"/>
<line x1="180.10" y1="164.95" x2="181.70" y2="164.95" stroke="#aaa" stroke-width="0.6"/>
<line x1="180.10" y1="168.17" x2="181.70" y2="168.17" stroke="#aaa" stroke-width="0.6"/>
<line x1="180.10" y1="171.38" x2="181.70" y2="171.38" stroke="#aaa" stroke-width="0.6"/>
<line x1="180.10" y1="174.60" x2="181.70" y2="174.60" stroke="#aaa" stroke-width="0.6"/>
<line x1="180.10" y1="177.82" x2="181.70" y2="177.82" stroke="#aaa" stroke-width="0.6"/>
<line x1="180.10" y1="181.03" x2="181.70" y2="181.03" stroke="#aaa" stroke-width="0.6"/>
<line x1="180.10" y1="184.25" x2="181.70" y2="184.25" stroke="#aaa" stroke-width="0.6"/>
<line x1="180.10" y1="187.47" x2="181.70" y2="187.47" stroke="#aaa" stroke-width="0.6"/>
<line x1="180.10" y1="190.68" x2="181.70" y2="190.68" stroke="#aaa" stroke-width="0.6"/>
<line x1="180.10" y1="193.90" x2="181.70" y2="193.90" stroke="#aaa" stroke-width="0.6"/>
<line x1="309.90" y1="116.70" x2="311.50" y2="116.70" stroke="#aaa" stroke-width="0.6"/>
<line x1="309.90" y1="119.92" x2="311.50" y2="119.92" stroke="#aaa" stroke-width="0.6"/>
<line x1="309.90" y1="123.14" x2="311.50" y2="123.14" stroke="#aaa" stroke-width="0.6"/>
<line x1="309.90" y1="126.36" x2="311.50" y2="126.36" stroke="#aaa" stroke-width="0.6"/>
<line x1="309.90" y1="129.58" x2="311.50" y2="129.58" stroke="#aaa" stroke-width="0.6"/>
<line x1="309.90" y1="132.80" x2="311.50" y2="132.80" stroke="#aaa" stroke-width="0.6"/>
<line x1="309.90" y1="136.03" x2="311.50" y2="136.03" stroke="#aaa" stroke-width="0.6"/>
<line x1="309.90" y1="139.25" x2="311.50" y2="139.25" stroke="#aaa" stroke-width="0.6"/>
<line x1="309.90" y1="142.47" x2="311.50" y2="142.47" stroke="#aaa" stroke-width="0.6"/>
<line x1="309.90" y1="145.69" x2="311.50" y2="145.69" stroke="#aaa" stroke-width="0.6"/>
<line x1="309.90" y1="148.91" x2="311.50" y2="148.91" stroke="#aaa" stroke-width="0.6"/>
<line x1="309.90" y1="152.13" x2="311.50" y2="152.13" stroke="#aaa" stroke-width="0.6"/>
<line x1="309.90" y1="155.35" x2="311.50" y2="155.35" stroke="#aaa" stroke-width="0.6"/>
<line x1="309.90" y1="158.57" x2="311.50" y2="158.57" stroke="#aaa" stroke-width="0.6"/>
<line x1="309.90" y1="161.79" x2="311.50" y2="161.79" stroke="#aaa" stroke-width="0.6"/>
<line x1="309.90" y1="165.01" x2="311.50" y2="165.01" stroke="#aaa" stroke-width="0.6"/>
<line x1="309.90" y1="168.23" x2="311.50" y2="168.23" stroke="#aaa" stroke-width="0.6"/>
<line x1="309.90" y1="171.45" x2="311.50" y2="171.45" stroke="#aaa" stroke-width="0.6"/>
<line x1="309.90" y1="174.68" x2="311.50" y2="174.68" stroke="#aaa" stroke-width="0.6"/>
<line x1="309.90" y1="177.90" x2="311.50" y2="177.90" stroke="#aaa" stroke-width="0.6"/>
<line x1="309.90" y1="181.12" x2="311.50" y2="181.12" stroke="#aaa" stroke-width="0.6"/>
<line x1="309.90" y1="184.34" x2="311.50" y2="184.34" stroke="#aaa" stroke-width="0.6"/>
<line x1="309.90" y1="187.56" x2="311.50" y2="187.56" stroke="#aaa" stroke-width="0.6"/>
<line x1="309.90" y1="190.78" x2="311.50" y2="190.78" stroke="#aaa" stroke-width="0.6"/>
<line x1="309.90" y1="194.00" x2="311.50" y2="194.00" stroke="#aaa" stroke-width="0.6"/>
<line x1="53.80" y1="194.20" x2="53.80" y2="196.80" stroke="#a0a0a0" stroke-width="0.6"/>
<line x1="61.39" y1="194.20" x2="61.39" y2="195.80" stroke="#a0a0a0" stroke-width="0.6"/>
<line x1="65.82" y1="194.20" x2="65.82" y2="195.80" stroke="#a0a0a0" stroke-width="0.6"/>
<line x1="68.97" y1="194.20" x2="68.97" y2="195.80" stroke="#a0a0a0" stroke-width="0.6"/>
<line x1="71.41" y1="194.20" x2="71.41" y2="195.80" stroke="#a0a0a0" stroke-width="0.6"/>
<line x1="73.41" y1="194.20" x2="73.41" y2="195.80" stroke="#a0a0a0" stroke-width="0.6"/>
<line x1="75.10" y1="194.20" x2="75.10" y2="195.80" stroke="#a0a0a0" stroke-width="0.6"/>
<line x1="76.56" y1="194.20" x2="76.56" y2="195.80" stroke="#a0a0a0" stroke-width="0.6"/>
<line x1="77.85" y1="194.20" x2="77.85" y2="195.80" stroke="#a0a0a0" stroke-width="0.6"/>
<line x1="79.00" y1="194.20" x2="79.00" y2="196.80" stroke="#a0a0a0" stroke-width="0.6"/>
<line x1="86.59" y1="194.20" x2="86.59" y2="195.80" stroke="#a0a0a0" stroke-width="0.6"/>
<line x1="91.02" y1="194.20" x2="91.02" y2="195.80" stroke="#a0a0a0" stroke-width="0.6"/>
<line x1="94.17" y1="194.20" x2="94.17" y2="195.80" stroke="#a0a0a0" stroke-width="0.6"/>
<line x1="96.61" y1="194.20" x2="96.61" y2="195.80" stroke="#a0a0a0" stroke-width="0.6"/>
<line x1="98.61" y1="194.20" x2="98.61" y2="195.80" stroke="#a0a0a0" stroke-width="0.6"/>
<line x1="100.30" y1="194.20" x2="100.30" y2="195.80" stroke="#a0a0a0" stroke-width="0.6"/>
<line x1="101.76" y1="194.20" x2="101.76" y2="195.80" stroke="#a0a0a0" stroke-width="0.6"/>
<line x1="103.05" y1="194.20" x2="103.05" y2="195.80" stroke="#a0a0a0" stroke-width="0.6"/>
<line x1="104.20" y1="194.20" x2="104.20" y2="196.80" stroke="#a0a0a0" stroke-width="0.6"/>
<line x1="111.79" y1="194.20" x2="111.79" y2="195.80" stroke="#a0a0a0" stroke-width="0.6"/>
<line x1="116.22" y1="194.20" x2="116.22" y2="195.80" stroke="#a0a0a0" stroke-width="0.6"/>
<line x1="119.37" y1="194.20" x2="119.37" y2="195.80" stroke="#a0a0a0" stroke-width="0.6"/>
<line x1="121.81" y1="194.20" x2="121.81" y2="195.80" stroke="#a0a0a0" stroke-width="0.6"/>
<line x1="123.81" y1="194.20" x2="123.81" y2="195.80" stroke="#a0a0a0" stroke-width="0.6"/>
<line x1="125.50" y1="194.20" x2="125.50" y2="195.80" stroke="#a0a0a0" stroke-width="0.6"/>
<line x1="126.96" y1="194.20" x2="126.96" y2="195.80" stroke="#a0a0a0" stroke-width="0.6"/>
<line x1="128.25" y1="194.20" x2="128.25" y2="195.80" stroke="#a0a0a0" stroke-width="0.6"/>
<line x1="129.40" y1="194.20" x2="129.40" y2="196.80" stroke="#a0a0a0" stroke-width="0.6"/>
<line x1="136.99" y1="194.20" x2="136.99" y2="195.80" stroke="#a0a0a0" stroke-width="0.6"/>
<line x1="141.42" y1="194.20" x2="141.42" y2="195.80" stroke="#a0a0a0" stroke-width="0.6"/>
<line x1="144.57" y1="194.20" x2="144.57" y2="195.80" stroke="#a0a0a0" stroke-width="0.6"/>
<line x1="147.01" y1="194.20" x2="147.01" y2="195.80" stroke="#a0a0a0" stroke-width="0.6"/>
<line x1="149.01" y1="194.20" x2="149.01" y2="195.80" stroke="#a0a0a0" stroke-width="0.6"/>
<line x1="150.70" y1="194.20" x2="150.70" y2="195.80" stroke="#a0a0a0" stroke-width="0.6"/>
<line x1="152.16" y1="194.20" x2="152.16" y2="195.80" stroke="#a0a0a0" stroke-width="0.6"/>
<line x1="153.45" y1="194.20" x2="153.45" y2="195.80" stroke="#a0a0a0" stroke-width="0.6"/>
<line x1="154.60" y1="194.20" x2="154.60" y2="196.80" stroke="#a0a0a0" stroke-width="0.6"/>
<line x1="162.19" y1="194.20" x2="162.19" y2="195.80" stroke="#a0a0a0" stroke-width="0.6"/>
<line x1="166.62" y1="194.20" x2="166.62" y2="195.80" stroke="#a0a0a0" stroke-width="0.6"/>
<line x1="206.20" y1="194.20" x2="206.20" y2="196.80" stroke="#a0a0a0" stroke-width="0.6"/>
<line x1="213.85" y1="194.20" x2="213.85" y2="195.80" stroke="#a0a0a0" stroke-width="0.6"/>
<line x1="218.32" y1="194.20" x2="218.32" y2="195.80" stroke="#a0a0a0" stroke-width="0.6"/>
<line x1="221.49" y1="194.20" x2="221.49" y2="195.80" stroke="#a0a0a0" stroke-width="0.6"/>
<line x1="223.95" y1="194.20" x2="223.95" y2="195.80" stroke="#a0a0a0" stroke-width="0.6"/>
<line x1="225.97" y1="194.20" x2="225.97" y2="195.80" stroke="#a0a0a0" stroke-width="0.6"/>
<line x1="227.67" y1="194.20" x2="227.67" y2="195.80" stroke="#a0a0a0" stroke-width="0.6"/>
<line x1="229.14" y1="194.20" x2="229.14" y2="195.80" stroke="#a0a0a0" stroke-width="0.6"/>
<line x1="230.44" y1="194.20" x2="230.44" y2="195.80" stroke="#a0a0a0" stroke-width="0.6"/>
<line x1="231.60" y1="194.20" x2="231.60" y2="196.80" stroke="#a0a0a0" stroke-width="0.6"/>
<line x1="239.25" y1="194.20" x2="239.25" y2="195.80" stroke="#a0a0a0" stroke-width="0.6"/>
<line x1="243.72" y1="194.20" x2="243.72" y2="195.80" stroke="#a0a0a0" stroke-width="0.6"/>
<line x1="246.89" y1="194.20" x2="246.89" y2="195.80" stroke="#a0a0a0" stroke-width="0.6"/>
<line x1="249.35" y1="194.20" x2="249.35" y2="195.80" stroke="#a0a0a0" stroke-width="0.6"/>
<line x1="251.37" y1="194.20" x2="251.37" y2="195.80" stroke="#a0a0a0" stroke-width="0.6"/>
<line x1="253.07" y1="194.20" x2="253.07" y2="195.80" stroke="#a0a0a0" stroke-width="0.6"/>
<line x1="254.54" y1="194.20" x2="254.54" y2="195.80" stroke="#a0a0a0" stroke-width="0.6"/>
<line x1="255.84" y1="194.20" x2="255.84" y2="195.80" stroke="#a0a0a0" stroke-width="0.6"/>
<line x1="257.00" y1="194.20" x2="257.00" y2="196.80" stroke="#a0a0a0" stroke-width="0.6"/>
<line x1="264.65" y1="194.20" x2="264.65" y2="195.80" stroke="#a0a0a0" stroke-width="0.6"/>
<line x1="269.12" y1="194.20" x2="269.12" y2="195.80" stroke="#a0a0a0" stroke-width="0.6"/>
<line x1="272.29" y1="194.20" x2="272.29" y2="195.80" stroke="#a0a0a0" stroke-width="0.6"/>
<line x1="274.75" y1="194.20" x2="274.75" y2="195.80" stroke="#a0a0a0" stroke-width="0.6"/>
<line x1="276.77" y1="194.20" x2="276.77" y2="195.80" stroke="#a0a0a0" stroke-width="0.6"/>
<line x1="278.47" y1="194.20" x2="278.47" y2="195.80" stroke="#a0a0a0" stroke-width="0.6"/>
<line x1="279.94" y1="194.20" x2="279.94" y2="195.80" stroke="#a0a0a0" stroke-width="0.6"/>
<line x1="281.24" y1="194.20" x2="281.24" y2="195.80" stroke="#a0a0a0" stroke-width="0.6"/>
<line x1="282.40" y1="194.20" x2="282.40" y2="196.80" stroke="#a0a0a0" stroke-width="0.6"/>
<line x1="290.05" y1="194.20" x2="290.05" y2="195.80" stroke="#a0a0a0" stroke-width="0.6"/>
<line x1="294.52" y1="194.20" x2="294.52" y2="195.80" stroke="#a0a0a0" stroke-width="0.6"/>
<line x1="297.69" y1="194.20" x2="297.69" y2="195.80" stroke="#a0a0a0" stroke-width="0.6"/>
<line x1="312.40" y1="194.20" x2="312.40" y2="196.80" stroke="#a0a0a0" stroke-width="0.6"/>
<line x1="320.05" y1="194.20" x2="320.05" y2="195.80" stroke="#a0a0a0" stroke-width="0.6"/>
<line x1="324.52" y1="194.20" x2="324.52" y2="195.80" stroke="#a0a0a0" stroke-width="0.6"/>
<line x1="327.69" y1="194.20" x2="327.69" y2="195.80" stroke="#a0a0a0" stroke-width="0.6"/>
<line x1="330.15" y1="194.20" x2="330.15" y2="195.80" stroke="#a0a0a0" stroke-width="0.6"/>
<line x1="332.17" y1="194.20" x2="332.17" y2="195.80" stroke="#a0a0a0" stroke-width="0.6"/>
<line x1="333.87" y1="194.20" x2="333.87" y2="195.80" stroke="#a0a0a0" stroke-width="0.6"/>
<line x1="335.34" y1="194.20" x2="335.34" y2="195.80" stroke="#a0a0a0" stroke-width="0.6"/>
<line x1="336.64" y1="194.20" x2="336.64" y2="195.80" stroke="#a0a0a0" stroke-width="0.6"/>
<line x1="337.80" y1="194.20" x2="337.80" y2="196.80" stroke="#a0a0a0" stroke-width="0.6"/>
<line x1="345.45" y1="194.20" x2="345.45" y2="195.80" stroke="#a0a0a0" stroke-width="0.6"/>
<line x1="349.92" y1="194.20" x2="349.92" y2="195.80" stroke="#a0a0a0" stroke-width="0.6"/>
<line x1="353.09" y1="194.20" x2="353.09" y2="195.80" stroke="#a0a0a0" stroke-width="0.6"/>
<line x1="355.55" y1="194.20" x2="355.55" y2="195.80" stroke="#a0a0a0" stroke-width="0.6"/>
<line x1="357.57" y1="194.20" x2="357.57" y2="195.80" stroke="#a0a0a0" stroke-width="0.6"/>
<line x1="359.27" y1="194.20" x2="359.27" y2="195.80" stroke="#a0a0a0" stroke-width="0.6"/>
<line x1="360.74" y1="194.20" x2="360.74" y2="195.80" stroke="#a0a0a0" stroke-width="0.6"/>
<line x1="362.04" y1="194.20" x2="362.04" y2="195.80" stroke="#a0a0a0" stroke-width="0.6"/>
<line x1="363.20" y1="194.20" x2="363.20" y2="196.80" stroke="#a0a0a0" stroke-width="0.6"/>
<line x1="370.85" y1="194.20" x2="370.85" y2="195.80" stroke="#a0a0a0" stroke-width="0.6"/>
<line x1="375.32" y1="194.20" x2="375.32" y2="195.80" stroke="#a0a0a0" stroke-width="0.6"/>
<line x1="378.49" y1="194.20" x2="378.49" y2="195.80" stroke="#a0a0a0" stroke-width="0.6"/>
<line x1="380.95" y1="194.20" x2="380.95" y2="195.80" stroke="#a0a0a0" stroke-width="0.6"/>
<line x1="382.97" y1="194.20" x2="382.97" y2="195.80" stroke="#a0a0a0" stroke-width="0.6"/>
<line x1="384.67" y1="194.20" x2="384.67" y2="195.80" stroke="#a0a0a0" stroke-width="0.6"/>
<line x1="386.14" y1="194.20" x2="386.14" y2="195.80" stroke="#a0a0a0" stroke-width="0.6"/>
<line x1="387.44" y1="194.20" x2="387.44" y2="195.80" stroke="#a0a0a0" stroke-width="0.6"/>
<line x1="388.60" y1="194.20" x2="388.60" y2="196.80" stroke="#a0a0a0" stroke-width="0.6"/>
<line x1="396.25" y1="194.20" x2="396.25" y2="195.80" stroke="#a0a0a0" stroke-width="0.6"/>
<line x1="400.72" y1="194.20" x2="400.72" y2="195.80" stroke="#a0a0a0" stroke-width="0.6"/>
<line x1="403.89" y1="194.20" x2="403.89" y2="195.80" stroke="#a0a0a0" stroke-width="0.6"/>
<line x1="406.35" y1="194.20" x2="406.35" y2="195.80" stroke="#a0a0a0" stroke-width="0.6"/>
<line x1="408.37" y1="194.20" x2="408.37" y2="195.80" stroke="#a0a0a0" stroke-width="0.6"/>
<line x1="410.07" y1="194.20" x2="410.07" y2="195.80" stroke="#a0a0a0" stroke-width="0.6"/>
<line x1="411.54" y1="194.20" x2="411.54" y2="195.80" stroke="#a0a0a0" stroke-width="0.6"/>
<line x1="412.84" y1="194.20" x2="412.84" y2="195.80" stroke="#a0a0a0" stroke-width="0.6"/>
<line x1="414.00" y1="194.20" x2="414.00" y2="196.80" stroke="#a0a0a0" stroke-width="0.6"/>
<line x1="421.65" y1="194.20" x2="421.65" y2="195.80" stroke="#a0a0a0" stroke-width="0.6"/>
<line x1="426.12" y1="194.20" x2="426.12" y2="195.80" stroke="#a0a0a0" stroke-width="0.6"/>
<text x="50.1" y="207.2" font-size="6.3" fill="#4a4a4a" stroke="#4a4a4a" stroke-width="0.2" text-anchor="middle">0</text>
<text x="57.3" y="203.7" font-size="6.3" fill="#4a4a4a" stroke="#4a4a4a" stroke-width="0.2" text-anchor="middle">10<tspan font-size="5" dy="-2.9">1</tspan></text>
<text x="79.4" y="203.7" font-size="6.3" fill="#4a4a4a" stroke="#4a4a4a" stroke-width="0.2" text-anchor="middle">10<tspan font-size="5" dy="-2.9">2</tspan></text>
<text x="105.0" y="203.7" font-size="6.3" fill="#4a4a4a" stroke="#4a4a4a" stroke-width="0.2" text-anchor="middle">10<tspan font-size="5" dy="-2.9">3</tspan></text>
<text x="130.9" y="203.7" font-size="6.3" fill="#4a4a4a" stroke="#4a4a4a" stroke-width="0.2" text-anchor="middle">10<tspan font-size="5" dy="-2.9">4</tspan></text>
<text x="156.0" y="203.7" font-size="6.3" fill="#4a4a4a" stroke="#4a4a4a" stroke-width="0.2" text-anchor="middle">10<tspan font-size="5" dy="-2.9">5</tspan></text>
<text x="181.5" y="207.2" font-size="6.3" fill="#4a4a4a" stroke="#4a4a4a" stroke-width="0.2" text-anchor="middle">-14</text>
<text x="186.0" y="203.2" font-size="6.3" fill="#4a4a4a" stroke="#4a4a4a" stroke-width="0.2" text-anchor="middle">0</text>
<text x="208.8" y="203.7" font-size="6.3" fill="#4a4a4a" stroke="#4a4a4a" stroke-width="0.2" text-anchor="middle">10<tspan font-size="5" dy="-2.9">2</tspan></text>
<text x="236.2" y="203.7" font-size="6.3" fill="#4a4a4a" stroke="#4a4a4a" stroke-width="0.2" text-anchor="middle">10<tspan font-size="5" dy="-2.9">3</tspan></text>
<text x="261.5" y="203.7" font-size="6.3" fill="#4a4a4a" stroke="#4a4a4a" stroke-width="0.2" text-anchor="middle">10<tspan font-size="5" dy="-2.9">4</tspan></text>
<text x="287.6" y="203.7" font-size="6.3" fill="#4a4a4a" stroke="#4a4a4a" stroke-width="0.2" text-anchor="middle">10<tspan font-size="5" dy="-2.9">5</tspan></text>
<text x="310.8" y="207.2" font-size="6.3" fill="#4a4a4a" stroke="#4a4a4a" stroke-width="0.2" text-anchor="middle">0</text>
<text x="319.5" y="203.7" font-size="6.3" fill="#4a4a4a" stroke="#4a4a4a" stroke-width="0.2" text-anchor="middle">10<tspan font-size="5" dy="-2.9">1</tspan></text>
<text x="340.6" y="203.7" font-size="6.3" fill="#4a4a4a" stroke="#4a4a4a" stroke-width="0.2" text-anchor="middle">10<tspan font-size="5" dy="-2.9">2</tspan></text>
<text x="365.6" y="203.7" font-size="6.3" fill="#4a4a4a" stroke="#4a4a4a" stroke-width="0.2" text-anchor="middle">10<tspan font-size="5" dy="-2.9">3</tspan></text>
<text x="392.6" y="203.7" font-size="6.3" fill="#4a4a4a" stroke="#4a4a4a" stroke-width="0.2" text-anchor="middle">10<tspan font-size="5" dy="-2.9">4</tspan></text>
<text x="418.6" y="203.7" font-size="6.3" fill="#4a4a4a" stroke="#4a4a4a" stroke-width="0.2" text-anchor="middle">10<tspan font-size="5" dy="-2.9">5</tspan></text>
<text x="0" y="0" font-size="6.4" fill="#4a4a4a" stroke="#4a4a4a" stroke-width="0.18" text-anchor="middle" textLength="6.2" lengthAdjust="spacingAndGlyphs" transform="translate(45.0,385.8) rotate(-90)">80</text>
<text x="0" y="0" font-size="6.4" fill="#4a4a4a" stroke="#4a4a4a" stroke-width="0.18" text-anchor="middle" textLength="6.2" lengthAdjust="spacingAndGlyphs" transform="translate(45.0,394.9) rotate(-90)">70</text>
<text x="0" y="0" font-size="6.4" fill="#4a4a4a" stroke="#4a4a4a" stroke-width="0.18" text-anchor="middle" textLength="6.2" lengthAdjust="spacingAndGlyphs" transform="translate(45.0,403.9) rotate(-90)">60</text>
<text x="0" y="0" font-size="6.4" fill="#4a4a4a" stroke="#4a4a4a" stroke-width="0.18" text-anchor="middle" textLength="6.2" lengthAdjust="spacingAndGlyphs" transform="translate(45.0,412.9) rotate(-90)">50</text>
<text x="0" y="0" font-size="6.4" fill="#4a4a4a" stroke="#4a4a4a" stroke-width="0.18" text-anchor="middle" textLength="6.2" lengthAdjust="spacingAndGlyphs" transform="translate(45.0,422.0) rotate(-90)">40</text>
<text x="0" y="0" font-size="6.4" fill="#4a4a4a" stroke="#4a4a4a" stroke-width="0.18" text-anchor="middle" textLength="6.2" lengthAdjust="spacingAndGlyphs" transform="translate(45.0,431.1) rotate(-90)">30</text>
<text x="0" y="0" font-size="6.4" fill="#4a4a4a" stroke="#4a4a4a" stroke-width="0.18" text-anchor="middle" textLength="6.2" lengthAdjust="spacingAndGlyphs" transform="translate(45.0,440.1) rotate(-90)">20</text>
<text x="0" y="0" font-size="6.4" fill="#4a4a4a" stroke="#4a4a4a" stroke-width="0.18" text-anchor="middle" textLength="6.2" lengthAdjust="spacingAndGlyphs" transform="translate(45.0,449.1) rotate(-90)">10</text>
<text x="0" y="0" font-size="6.4" fill="#4a4a4a" stroke="#4a4a4a" stroke-width="0.18" text-anchor="middle" textLength="3.1" lengthAdjust="spacingAndGlyphs" transform="translate(45.0,458.2) rotate(-90)">0</text>
<text x="0" y="0" font-size="6.4" fill="#4a4a4a" stroke="#4a4a4a" stroke-width="0.18" text-anchor="middle" textLength="6.2" lengthAdjust="spacingAndGlyphs" transform="translate(177.6,384.7) rotate(-90)">80</text>
<text x="0" y="0" font-size="6.4" fill="#4a4a4a" stroke="#4a4a4a" stroke-width="0.18" text-anchor="middle" textLength="6.2" lengthAdjust="spacingAndGlyphs" transform="translate(177.6,393.9) rotate(-90)">70</text>
<text x="0" y="0" font-size="6.4" fill="#4a4a4a" stroke="#4a4a4a" stroke-width="0.18" text-anchor="middle" textLength="6.2" lengthAdjust="spacingAndGlyphs" transform="translate(177.6,403.1) rotate(-90)">60</text>
<text x="0" y="0" font-size="6.4" fill="#4a4a4a" stroke="#4a4a4a" stroke-width="0.18" text-anchor="middle" textLength="6.2" lengthAdjust="spacingAndGlyphs" transform="translate(177.6,412.3) rotate(-90)">50</text>
<text x="0" y="0" font-size="6.4" fill="#4a4a4a" stroke="#4a4a4a" stroke-width="0.18" text-anchor="middle" textLength="6.2" lengthAdjust="spacingAndGlyphs" transform="translate(177.6,421.5) rotate(-90)">40</text>
<text x="0" y="0" font-size="6.4" fill="#4a4a4a" stroke="#4a4a4a" stroke-width="0.18" text-anchor="middle" textLength="6.2" lengthAdjust="spacingAndGlyphs" transform="translate(177.6,430.8) rotate(-90)">30</text>
<text x="0" y="0" font-size="6.4" fill="#4a4a4a" stroke="#4a4a4a" stroke-width="0.18" text-anchor="middle" textLength="6.2" lengthAdjust="spacingAndGlyphs" transform="translate(177.6,440.0) rotate(-90)">20</text>
<text x="0" y="0" font-size="6.4" fill="#4a4a4a" stroke="#4a4a4a" stroke-width="0.18" text-anchor="middle" textLength="6.2" lengthAdjust="spacingAndGlyphs" transform="translate(177.6,449.2) rotate(-90)">10</text>
<text x="0" y="0" font-size="6.4" fill="#4a4a4a" stroke="#4a4a4a" stroke-width="0.18" text-anchor="middle" textLength="3.1" lengthAdjust="spacingAndGlyphs" transform="translate(177.6,458.4) rotate(-90)">0</text>
<text x="0" y="0" font-size="6.4" fill="#4a4a4a" stroke="#4a4a4a" stroke-width="0.18" text-anchor="middle" textLength="6.2" lengthAdjust="spacingAndGlyphs" transform="translate(309.8,383.6) rotate(-90)">90</text>
<text x="0" y="0" font-size="6.4" fill="#4a4a4a" stroke="#4a4a4a" stroke-width="0.18" text-anchor="middle" textLength="6.2" lengthAdjust="spacingAndGlyphs" transform="translate(309.8,391.9) rotate(-90)">80</text>
<text x="0" y="0" font-size="6.4" fill="#4a4a4a" stroke="#4a4a4a" stroke-width="0.18" text-anchor="middle" textLength="6.2" lengthAdjust="spacingAndGlyphs" transform="translate(309.8,400.2) rotate(-90)">70</text>
<text x="0" y="0" font-size="6.4" fill="#4a4a4a" stroke="#4a4a4a" stroke-width="0.18" text-anchor="middle" textLength="6.2" lengthAdjust="spacingAndGlyphs" transform="translate(309.8,408.5) rotate(-90)">60</text>
<text x="0" y="0" font-size="6.4" fill="#4a4a4a" stroke="#4a4a4a" stroke-width="0.18" text-anchor="middle" textLength="6.2" lengthAdjust="spacingAndGlyphs" transform="translate(309.8,416.8) rotate(-90)">50</text>
<text x="0" y="0" font-size="6.4" fill="#4a4a4a" stroke="#4a4a4a" stroke-width="0.18" text-anchor="middle" textLength="6.2" lengthAdjust="spacingAndGlyphs" transform="translate(309.8,425.0) rotate(-90)">40</text>
<text x="0" y="0" font-size="6.4" fill="#4a4a4a" stroke="#4a4a4a" stroke-width="0.18" text-anchor="middle" textLength="6.2" lengthAdjust="spacingAndGlyphs" transform="translate(309.8,433.3) rotate(-90)">30</text>
<text x="0" y="0" font-size="6.4" fill="#4a4a4a" stroke="#4a4a4a" stroke-width="0.18" text-anchor="middle" textLength="6.2" lengthAdjust="spacingAndGlyphs" transform="translate(309.8,441.6) rotate(-90)">20</text>
<text x="0" y="0" font-size="6.4" fill="#4a4a4a" stroke="#4a4a4a" stroke-width="0.18" text-anchor="middle" textLength="6.2" lengthAdjust="spacingAndGlyphs" transform="translate(309.8,449.9) rotate(-90)">10</text>
<text x="0" y="0" font-size="6.4" fill="#4a4a4a" stroke="#4a4a4a" stroke-width="0.18" text-anchor="middle" textLength="3.1" lengthAdjust="spacingAndGlyphs" transform="translate(309.8,458.2) rotate(-90)">0</text>
<line x1="46.30" y1="380.00" x2="47.90" y2="380.00" stroke="#aaa" stroke-width="0.6"/>
<line x1="46.30" y1="381.95" x2="47.90" y2="381.95" stroke="#aaa" stroke-width="0.6"/>
<line x1="46.30" y1="383.91" x2="47.90" y2="383.91" stroke="#aaa" stroke-width="0.6"/>
<line x1="46.30" y1="385.87" x2="47.90" y2="385.87" stroke="#aaa" stroke-width="0.6"/>
<line x1="46.30" y1="387.82" x2="47.90" y2="387.82" stroke="#aaa" stroke-width="0.6"/>
<line x1="46.30" y1="389.77" x2="47.90" y2="389.77" stroke="#aaa" stroke-width="0.6"/>
<line x1="46.30" y1="391.73" x2="47.90" y2="391.73" stroke="#aaa" stroke-width="0.6"/>
<line x1="46.30" y1="393.69" x2="47.90" y2="393.69" stroke="#aaa" stroke-width="0.6"/>
<line x1="46.30" y1="395.64" x2="47.90" y2="395.64" stroke="#aaa" stroke-width="0.6"/>
<line x1="46.30" y1="397.60" x2="47.90" y2="397.60" stroke="#aaa" stroke-width="0.6"/>
<line x1="46.30" y1="399.55" x2="47.90" y2="399.55" stroke="#aaa" stroke-width="0.6"/>
<line x1="46.30" y1="401.50" x2="47.90" y2="401.50" stroke="#aaa" stroke-width="0.6"/>
<line x1="46.30" y1="403.46" x2="47.90" y2="403.46" stroke="#aaa" stroke-width="0.6"/>
<line x1="46.30" y1="405.42" x2="47.90" y2="405.42" stroke="#aaa" stroke-width="0.6"/>
<line x1="46.30" y1="407.37" x2="47.90" y2="407.37" stroke="#aaa" stroke-width="0.6"/>
<line x1="46.30" y1="409.32" x2="47.90" y2="409.32" stroke="#aaa" stroke-width="0.6"/>
<line x1="46.30" y1="411.28" x2="47.90" y2="411.28" stroke="#aaa" stroke-width="0.6"/>
<line x1="46.30" y1="413.24" x2="47.90" y2="413.24" stroke="#aaa" stroke-width="0.6"/>
<line x1="46.30" y1="415.19" x2="47.90" y2="415.19" stroke="#aaa" stroke-width="0.6"/>
<line x1="46.30" y1="417.14" x2="47.90" y2="417.14" stroke="#aaa" stroke-width="0.6"/>
<line x1="46.30" y1="419.10" x2="47.90" y2="419.10" stroke="#aaa" stroke-width="0.6"/>
<line x1="46.30" y1="421.06" x2="47.90" y2="421.06" stroke="#aaa" stroke-width="0.6"/>
<line x1="46.30" y1="423.01" x2="47.90" y2="423.01" stroke="#aaa" stroke-width="0.6"/>
<line x1="46.30" y1="424.96" x2="47.90" y2="424.96" stroke="#aaa" stroke-width="0.6"/>
<line x1="46.30" y1="426.92" x2="47.90" y2="426.92" stroke="#aaa" stroke-width="0.6"/>
<line x1="46.30" y1="428.88" x2="47.90" y2="428.88" stroke="#aaa" stroke-width="0.6"/>
<line x1="46.30" y1="430.83" x2="47.90" y2="430.83" stroke="#aaa" stroke-width="0.6"/>
<line x1="46.30" y1="432.78" x2="47.90" y2="432.78" stroke="#aaa" stroke-width="0.6"/>
<line x1="46.30" y1="434.74" x2="47.90" y2="434.74" stroke="#aaa" stroke-width="0.6"/>
<line x1="46.30" y1="436.69" x2="47.90" y2="436.69" stroke="#aaa" stroke-width="0.6"/>
<line x1="46.30" y1="438.65" x2="47.90" y2="438.65" stroke="#aaa" stroke-width="0.6"/>
<line x1="46.30" y1="440.61" x2="47.90" y2="440.61" stroke="#aaa" stroke-width="0.6"/>
<line x1="46.30" y1="442.56" x2="47.90" y2="442.56" stroke="#aaa" stroke-width="0.6"/>
<line x1="46.30" y1="444.51" x2="47.90" y2="444.51" stroke="#aaa" stroke-width="0.6"/>
<line x1="46.30" y1="446.47" x2="47.90" y2="446.47" stroke="#aaa" stroke-width="0.6"/>
<line x1="46.30" y1="448.42" x2="47.90" y2="448.42" stroke="#aaa" stroke-width="0.6"/>
<line x1="46.30" y1="450.38" x2="47.90" y2="450.38" stroke="#aaa" stroke-width="0.6"/>
<line x1="46.30" y1="452.33" x2="47.90" y2="452.33" stroke="#aaa" stroke-width="0.6"/>
<line x1="46.30" y1="454.29" x2="47.90" y2="454.29" stroke="#aaa" stroke-width="0.6"/>
<line x1="46.30" y1="456.25" x2="47.90" y2="456.25" stroke="#aaa" stroke-width="0.6"/>
<line x1="46.30" y1="458.20" x2="47.90" y2="458.20" stroke="#aaa" stroke-width="0.6"/>
<line x1="178.90" y1="380.00" x2="180.50" y2="380.00" stroke="#aaa" stroke-width="0.6"/>
<line x1="178.90" y1="381.96" x2="180.50" y2="381.96" stroke="#aaa" stroke-width="0.6"/>
<line x1="178.90" y1="383.92" x2="180.50" y2="383.92" stroke="#aaa" stroke-width="0.6"/>
<line x1="178.90" y1="385.88" x2="180.50" y2="385.88" stroke="#aaa" stroke-width="0.6"/>
<line x1="178.90" y1="387.84" x2="180.50" y2="387.84" stroke="#aaa" stroke-width="0.6"/>
<line x1="178.90" y1="389.80" x2="180.50" y2="389.80" stroke="#aaa" stroke-width="0.6"/>
<line x1="178.90" y1="391.76" x2="180.50" y2="391.76" stroke="#aaa" stroke-width="0.6"/>
<line x1="178.90" y1="393.72" x2="180.50" y2="393.72" stroke="#aaa" stroke-width="0.6"/>
<line x1="178.90" y1="395.68" x2="180.50" y2="395.68" stroke="#aaa" stroke-width="0.6"/>
<line x1="178.90" y1="397.64" x2="180.50" y2="397.64" stroke="#aaa" stroke-width="0.6"/>
<line x1="178.90" y1="399.60" x2="180.50" y2="399.60" stroke="#aaa" stroke-width="0.6"/>
<line x1="178.90" y1="401.56" x2="180.50" y2="401.56" stroke="#aaa" stroke-width="0.6"/>
<line x1="178.90" y1="403.52" x2="180.50" y2="403.52" stroke="#aaa" stroke-width="0.6"/>
<line x1="178.90" y1="405.48" x2="180.50" y2="405.48" stroke="#aaa" stroke-width="0.6"/>
<line x1="178.90" y1="407.44" x2="180.50" y2="407.44" stroke="#aaa" stroke-width="0.6"/>
<line x1="178.90" y1="409.40" x2="180.50" y2="409.40" stroke="#aaa" stroke-width="0.6"/>
<line x1="178.90" y1="411.36" x2="180.50" y2="411.36" stroke="#aaa" stroke-width="0.6"/>
<line x1="178.90" y1="413.32" x2="180.50" y2="413.32" stroke="#aaa" stroke-width="0.6"/>
<line x1="178.90" y1="415.28" x2="180.50" y2="415.28" stroke="#aaa" stroke-width="0.6"/>
<line x1="178.90" y1="417.24" x2="180.50" y2="417.24" stroke="#aaa" stroke-width="0.6"/>
<line x1="178.90" y1="419.20" x2="180.50" y2="419.20" stroke="#aaa" stroke-width="0.6"/>
<line x1="178.90" y1="421.16" x2="180.50" y2="421.16" stroke="#aaa" stroke-width="0.6"/>
<line x1="178.90" y1="423.12" x2="180.50" y2="423.12" stroke="#aaa" stroke-width="0.6"/>
<line x1="178.90" y1="425.08" x2="180.50" y2="425.08" stroke="#aaa" stroke-width="0.6"/>
<line x1="178.90" y1="427.04" x2="180.50" y2="427.04" stroke="#aaa" stroke-width="0.6"/>
<line x1="178.90" y1="429.00" x2="180.50" y2="429.00" stroke="#aaa" stroke-width="0.6"/>
<line x1="178.90" y1="430.96" x2="180.50" y2="430.96" stroke="#aaa" stroke-width="0.6"/>
<line x1="178.90" y1="432.92" x2="180.50" y2="432.92" stroke="#aaa" stroke-width="0.6"/>
<line x1="178.90" y1="434.88" x2="180.50" y2="434.88" stroke="#aaa" stroke-width="0.6"/>
<line x1="178.90" y1="436.84" x2="180.50" y2="436.84" stroke="#aaa" stroke-width="0.6"/>
<line x1="178.90" y1="438.80" x2="180.50" y2="438.80" stroke="#aaa" stroke-width="0.6"/>
<line x1="178.90" y1="440.76" x2="180.50" y2="440.76" stroke="#aaa" stroke-width="0.6"/>
<line x1="178.90" y1="442.72" x2="180.50" y2="442.72" stroke="#aaa" stroke-width="0.6"/>
<line x1="178.90" y1="444.68" x2="180.50" y2="444.68" stroke="#aaa" stroke-width="0.6"/>
<line x1="178.90" y1="446.64" x2="180.50" y2="446.64" stroke="#aaa" stroke-width="0.6"/>
<line x1="178.90" y1="448.60" x2="180.50" y2="448.60" stroke="#aaa" stroke-width="0.6"/>
<line x1="178.90" y1="450.56" x2="180.50" y2="450.56" stroke="#aaa" stroke-width="0.6"/>
<line x1="178.90" y1="452.52" x2="180.50" y2="452.52" stroke="#aaa" stroke-width="0.6"/>
<line x1="178.90" y1="454.48" x2="180.50" y2="454.48" stroke="#aaa" stroke-width="0.6"/>
<line x1="178.90" y1="456.44" x2="180.50" y2="456.44" stroke="#aaa" stroke-width="0.6"/>
<line x1="178.90" y1="458.40" x2="180.50" y2="458.40" stroke="#aaa" stroke-width="0.6"/>
<line x1="311.10" y1="379.50" x2="312.70" y2="379.50" stroke="#aaa" stroke-width="0.6"/>
<line x1="311.10" y1="381.25" x2="312.70" y2="381.25" stroke="#aaa" stroke-width="0.6"/>
<line x1="311.10" y1="383.00" x2="312.70" y2="383.00" stroke="#aaa" stroke-width="0.6"/>
<line x1="311.10" y1="384.75" x2="312.70" y2="384.75" stroke="#aaa" stroke-width="0.6"/>
<line x1="311.10" y1="386.50" x2="312.70" y2="386.50" stroke="#aaa" stroke-width="0.6"/>
<line x1="311.10" y1="388.24" x2="312.70" y2="388.24" stroke="#aaa" stroke-width="0.6"/>
<line x1="311.10" y1="389.99" x2="312.70" y2="389.99" stroke="#aaa" stroke-width="0.6"/>
<line x1="311.10" y1="391.74" x2="312.70" y2="391.74" stroke="#aaa" stroke-width="0.6"/>
<line x1="311.10" y1="393.49" x2="312.70" y2="393.49" stroke="#aaa" stroke-width="0.6"/>
<line x1="311.10" y1="395.24" x2="312.70" y2="395.24" stroke="#aaa" stroke-width="0.6"/>
<line x1="311.10" y1="396.99" x2="312.70" y2="396.99" stroke="#aaa" stroke-width="0.6"/>
<line x1="311.10" y1="398.74" x2="312.70" y2="398.74" stroke="#aaa" stroke-width="0.6"/>
<line x1="311.10" y1="400.49" x2="312.70" y2="400.49" stroke="#aaa" stroke-width="0.6"/>
<line x1="311.10" y1="402.24" x2="312.70" y2="402.24" stroke="#aaa" stroke-width="0.6"/>
<line x1="311.10" y1="403.98" x2="312.70" y2="403.98" stroke="#aaa" stroke-width="0.6"/>
<line x1="311.10" y1="405.73" x2="312.70" y2="405.73" stroke="#aaa" stroke-width="0.6"/>
<line x1="311.10" y1="407.48" x2="312.70" y2="407.48" stroke="#aaa" stroke-width="0.6"/>
<line x1="311.10" y1="409.23" x2="312.70" y2="409.23" stroke="#aaa" stroke-width="0.6"/>
<line x1="311.10" y1="410.98" x2="312.70" y2="410.98" stroke="#aaa" stroke-width="0.6"/>
<line x1="311.10" y1="412.73" x2="312.70" y2="412.73" stroke="#aaa" stroke-width="0.6"/>
<line x1="311.10" y1="414.48" x2="312.70" y2="414.48" stroke="#aaa" stroke-width="0.6"/>
<line x1="311.10" y1="416.23" x2="312.70" y2="416.23" stroke="#aaa" stroke-width="0.6"/>
<line x1="311.10" y1="417.98" x2="312.70" y2="417.98" stroke="#aaa" stroke-width="0.6"/>
<line x1="311.10" y1="419.72" x2="312.70" y2="419.72" stroke="#aaa" stroke-width="0.6"/>
<line x1="311.10" y1="421.47" x2="312.70" y2="421.47" stroke="#aaa" stroke-width="0.6"/>
<line x1="311.10" y1="423.22" x2="312.70" y2="423.22" stroke="#aaa" stroke-width="0.6"/>
<line x1="311.10" y1="424.97" x2="312.70" y2="424.97" stroke="#aaa" stroke-width="0.6"/>
<line x1="311.10" y1="426.72" x2="312.70" y2="426.72" stroke="#aaa" stroke-width="0.6"/>
<line x1="311.10" y1="428.47" x2="312.70" y2="428.47" stroke="#aaa" stroke-width="0.6"/>
<line x1="311.10" y1="430.22" x2="312.70" y2="430.22" stroke="#aaa" stroke-width="0.6"/>
<line x1="311.10" y1="431.97" x2="312.70" y2="431.97" stroke="#aaa" stroke-width="0.6"/>
<line x1="311.10" y1="433.72" x2="312.70" y2="433.72" stroke="#aaa" stroke-width="0.6"/>
<line x1="311.10" y1="435.46" x2="312.70" y2="435.46" stroke="#aaa" stroke-width="0.6"/>
<line x1="311.10" y1="437.21" x2="312.70" y2="437.21" stroke="#aaa" stroke-width="0.6"/>
<line x1="311.10" y1="438.96" x2="312.70" y2="438.96" stroke="#aaa" stroke-width="0.6"/>
<line x1="311.10" y1="440.71" x2="312.70" y2="440.71" stroke="#aaa" stroke-width="0.6"/>
<line x1="311.10" y1="442.46" x2="312.70" y2="442.46" stroke="#aaa" stroke-width="0.6"/>
<line x1="311.10" y1="444.21" x2="312.70" y2="444.21" stroke="#aaa" stroke-width="0.6"/>
<line x1="311.10" y1="445.96" x2="312.70" y2="445.96" stroke="#aaa" stroke-width="0.6"/>
<line x1="311.10" y1="447.71" x2="312.70" y2="447.71" stroke="#aaa" stroke-width="0.6"/>
<line x1="311.10" y1="449.46" x2="312.70" y2="449.46" stroke="#aaa" stroke-width="0.6"/>
<line x1="311.10" y1="451.20" x2="312.70" y2="451.20" stroke="#aaa" stroke-width="0.6"/>
<line x1="311.10" y1="452.95" x2="312.70" y2="452.95" stroke="#aaa" stroke-width="0.6"/>
<line x1="311.10" y1="454.70" x2="312.70" y2="454.70" stroke="#aaa" stroke-width="0.6"/>
<line x1="311.10" y1="456.45" x2="312.70" y2="456.45" stroke="#aaa" stroke-width="0.6"/>
<line x1="311.10" y1="458.20" x2="312.70" y2="458.20" stroke="#aaa" stroke-width="0.6"/>
<line x1="73.50" y1="458.40" x2="73.50" y2="461.00" stroke="#a0a0a0" stroke-width="0.6"/>
<line x1="81.84" y1="458.40" x2="81.84" y2="460.00" stroke="#a0a0a0" stroke-width="0.6"/>
<line x1="86.72" y1="458.40" x2="86.72" y2="460.00" stroke="#a0a0a0" stroke-width="0.6"/>
<line x1="90.18" y1="458.40" x2="90.18" y2="460.00" stroke="#a0a0a0" stroke-width="0.6"/>
<line x1="92.86" y1="458.40" x2="92.86" y2="460.00" stroke="#a0a0a0" stroke-width="0.6"/>
<line x1="95.05" y1="458.40" x2="95.05" y2="460.00" stroke="#a0a0a0" stroke-width="0.6"/>
<line x1="96.91" y1="458.40" x2="96.91" y2="460.00" stroke="#a0a0a0" stroke-width="0.6"/>
<line x1="98.52" y1="458.40" x2="98.52" y2="460.00" stroke="#a0a0a0" stroke-width="0.6"/>
<line x1="99.93" y1="458.40" x2="99.93" y2="460.00" stroke="#a0a0a0" stroke-width="0.6"/>
<line x1="101.20" y1="458.40" x2="101.20" y2="461.00" stroke="#a0a0a0" stroke-width="0.6"/>
<line x1="109.54" y1="458.40" x2="109.54" y2="460.00" stroke="#a0a0a0" stroke-width="0.6"/>
<line x1="114.42" y1="458.40" x2="114.42" y2="460.00" stroke="#a0a0a0" stroke-width="0.6"/>
<line x1="117.88" y1="458.40" x2="117.88" y2="460.00" stroke="#a0a0a0" stroke-width="0.6"/>
<line x1="120.56" y1="458.40" x2="120.56" y2="460.00" stroke="#a0a0a0" stroke-width="0.6"/>
<line x1="122.75" y1="458.40" x2="122.75" y2="460.00" stroke="#a0a0a0" stroke-width="0.6"/>
<line x1="124.61" y1="458.40" x2="124.61" y2="460.00" stroke="#a0a0a0" stroke-width="0.6"/>
<line x1="126.22" y1="458.40" x2="126.22" y2="460.00" stroke="#a0a0a0" stroke-width="0.6"/>
<line x1="127.63" y1="458.40" x2="127.63" y2="460.00" stroke="#a0a0a0" stroke-width="0.6"/>
<line x1="128.90" y1="458.40" x2="128.90" y2="461.00" stroke="#a0a0a0" stroke-width="0.6"/>
<line x1="137.24" y1="458.40" x2="137.24" y2="460.00" stroke="#a0a0a0" stroke-width="0.6"/>
<line x1="142.12" y1="458.40" x2="142.12" y2="460.00" stroke="#a0a0a0" stroke-width="0.6"/>
<line x1="145.58" y1="458.40" x2="145.58" y2="460.00" stroke="#a0a0a0" stroke-width="0.6"/>
<line x1="148.26" y1="458.40" x2="148.26" y2="460.00" stroke="#a0a0a0" stroke-width="0.6"/>
<line x1="150.45" y1="458.40" x2="150.45" y2="460.00" stroke="#a0a0a0" stroke-width="0.6"/>
<line x1="152.31" y1="458.40" x2="152.31" y2="460.00" stroke="#a0a0a0" stroke-width="0.6"/>
<line x1="153.92" y1="458.40" x2="153.92" y2="460.00" stroke="#a0a0a0" stroke-width="0.6"/>
<line x1="155.33" y1="458.40" x2="155.33" y2="460.00" stroke="#a0a0a0" stroke-width="0.6"/>
<line x1="156.60" y1="458.40" x2="156.60" y2="461.00" stroke="#a0a0a0" stroke-width="0.6"/>
<line x1="164.94" y1="458.40" x2="164.94" y2="460.00" stroke="#a0a0a0" stroke-width="0.6"/>
<line x1="206.80" y1="458.60" x2="206.80" y2="461.20" stroke="#a0a0a0" stroke-width="0.6"/>
<line x1="215.14" y1="458.60" x2="215.14" y2="460.20" stroke="#a0a0a0" stroke-width="0.6"/>
<line x1="220.02" y1="458.60" x2="220.02" y2="460.20" stroke="#a0a0a0" stroke-width="0.6"/>
<line x1="223.48" y1="458.60" x2="223.48" y2="460.20" stroke="#a0a0a0" stroke-width="0.6"/>
<line x1="226.16" y1="458.60" x2="226.16" y2="460.20" stroke="#a0a0a0" stroke-width="0.6"/>
<line x1="228.35" y1="458.60" x2="228.35" y2="460.20" stroke="#a0a0a0" stroke-width="0.6"/>
<line x1="230.21" y1="458.60" x2="230.21" y2="460.20" stroke="#a0a0a0" stroke-width="0.6"/>
<line x1="231.82" y1="458.60" x2="231.82" y2="460.20" stroke="#a0a0a0" stroke-width="0.6"/>
<line x1="233.23" y1="458.60" x2="233.23" y2="460.20" stroke="#a0a0a0" stroke-width="0.6"/>
<line x1="234.50" y1="458.60" x2="234.50" y2="461.20" stroke="#a0a0a0" stroke-width="0.6"/>
<line x1="242.84" y1="458.60" x2="242.84" y2="460.20" stroke="#a0a0a0" stroke-width="0.6"/>
<line x1="247.72" y1="458.60" x2="247.72" y2="460.20" stroke="#a0a0a0" stroke-width="0.6"/>
<line x1="251.18" y1="458.60" x2="251.18" y2="460.20" stroke="#a0a0a0" stroke-width="0.6"/>
<line x1="253.86" y1="458.60" x2="253.86" y2="460.20" stroke="#a0a0a0" stroke-width="0.6"/>
<line x1="256.05" y1="458.60" x2="256.05" y2="460.20" stroke="#a0a0a0" stroke-width="0.6"/>
<line x1="257.91" y1="458.60" x2="257.91" y2="460.20" stroke="#a0a0a0" stroke-width="0.6"/>
<line x1="259.52" y1="458.60" x2="259.52" y2="460.20" stroke="#a0a0a0" stroke-width="0.6"/>
<line x1="260.93" y1="458.60" x2="260.93" y2="460.20" stroke="#a0a0a0" stroke-width="0.6"/>
<line x1="262.20" y1="458.60" x2="262.20" y2="461.20" stroke="#a0a0a0" stroke-width="0.6"/>
<line x1="270.54" y1="458.60" x2="270.54" y2="460.20" stroke="#a0a0a0" stroke-width="0.6"/>
<line x1="275.42" y1="458.60" x2="275.42" y2="460.20" stroke="#a0a0a0" stroke-width="0.6"/>
<line x1="278.88" y1="458.60" x2="278.88" y2="460.20" stroke="#a0a0a0" stroke-width="0.6"/>
<line x1="281.56" y1="458.60" x2="281.56" y2="460.20" stroke="#a0a0a0" stroke-width="0.6"/>
<line x1="283.75" y1="458.60" x2="283.75" y2="460.20" stroke="#a0a0a0" stroke-width="0.6"/>
<line x1="285.61" y1="458.60" x2="285.61" y2="460.20" stroke="#a0a0a0" stroke-width="0.6"/>
<line x1="287.22" y1="458.60" x2="287.22" y2="460.20" stroke="#a0a0a0" stroke-width="0.6"/>
<line x1="288.63" y1="458.60" x2="288.63" y2="460.20" stroke="#a0a0a0" stroke-width="0.6"/>
<line x1="289.90" y1="458.60" x2="289.90" y2="461.20" stroke="#a0a0a0" stroke-width="0.6"/>
<line x1="339.60" y1="458.40" x2="339.60" y2="461.00" stroke="#a0a0a0" stroke-width="0.6"/>
<line x1="347.94" y1="458.40" x2="347.94" y2="460.00" stroke="#a0a0a0" stroke-width="0.6"/>
<line x1="352.82" y1="458.40" x2="352.82" y2="460.00" stroke="#a0a0a0" stroke-width="0.6"/>
<line x1="356.28" y1="458.40" x2="356.28" y2="460.00" stroke="#a0a0a0" stroke-width="0.6"/>
<line x1="358.96" y1="458.40" x2="358.96" y2="460.00" stroke="#a0a0a0" stroke-width="0.6"/>
<line x1="361.15" y1="458.40" x2="361.15" y2="460.00" stroke="#a0a0a0" stroke-width="0.6"/>
<line x1="363.01" y1="458.40" x2="363.01" y2="460.00" stroke="#a0a0a0" stroke-width="0.6"/>
<line x1="364.62" y1="458.40" x2="364.62" y2="460.00" stroke="#a0a0a0" stroke-width="0.6"/>
<line x1="366.03" y1="458.40" x2="366.03" y2="460.00" stroke="#a0a0a0" stroke-width="0.6"/>
<line x1="367.30" y1="458.40" x2="367.30" y2="461.00" stroke="#a0a0a0" stroke-width="0.6"/>
<line x1="375.64" y1="458.40" x2="375.64" y2="460.00" stroke="#a0a0a0" stroke-width="0.6"/>
<line x1="380.52" y1="458.40" x2="380.52" y2="460.00" stroke="#a0a0a0" stroke-width="0.6"/>
<line x1="383.98" y1="458.40" x2="383.98" y2="460.00" stroke="#a0a0a0" stroke-width="0.6"/>
<line x1="386.66" y1="458.40" x2="386.66" y2="460.00" stroke="#a0a0a0" stroke-width="0.6"/>
<line x1="388.85" y1="458.40" x2="388.85" y2="460.00" stroke="#a0a0a0" stroke-width="0.6"/>
<line x1="390.71" y1="458.40" x2="390.71" y2="460.00" stroke="#a0a0a0" stroke-width="0.6"/>
<line x1="392.32" y1="458.40" x2="392.32" y2="460.00" stroke="#a0a0a0" stroke-width="0.6"/>
<line x1="393.73" y1="458.40" x2="393.73" y2="460.00" stroke="#a0a0a0" stroke-width="0.6"/>
<line x1="395.00" y1="458.40" x2="395.00" y2="461.00" stroke="#a0a0a0" stroke-width="0.6"/>
<line x1="403.34" y1="458.40" x2="403.34" y2="460.00" stroke="#a0a0a0" stroke-width="0.6"/>
<line x1="408.22" y1="458.40" x2="408.22" y2="460.00" stroke="#a0a0a0" stroke-width="0.6"/>
<line x1="411.68" y1="458.40" x2="411.68" y2="460.00" stroke="#a0a0a0" stroke-width="0.6"/>
<line x1="414.36" y1="458.40" x2="414.36" y2="460.00" stroke="#a0a0a0" stroke-width="0.6"/>
<line x1="416.55" y1="458.40" x2="416.55" y2="460.00" stroke="#a0a0a0" stroke-width="0.6"/>
<line x1="418.41" y1="458.40" x2="418.41" y2="460.00" stroke="#a0a0a0" stroke-width="0.6"/>
<line x1="420.02" y1="458.40" x2="420.02" y2="460.00" stroke="#a0a0a0" stroke-width="0.6"/>
<line x1="421.43" y1="458.40" x2="421.43" y2="460.00" stroke="#a0a0a0" stroke-width="0.6"/>
<line x1="422.70" y1="458.40" x2="422.70" y2="461.00" stroke="#a0a0a0" stroke-width="0.6"/>
<line x1="50.50" y1="458.40" x2="50.50" y2="460.40" stroke="#a8a8a8" stroke-width="0.6"/>
<line x1="53.00" y1="458.40" x2="53.00" y2="460.40" stroke="#a8a8a8" stroke-width="0.6"/>
<line x1="55.50" y1="458.40" x2="55.50" y2="460.40" stroke="#a8a8a8" stroke-width="0.6"/>
<line x1="58.00" y1="458.40" x2="58.00" y2="460.40" stroke="#a8a8a8" stroke-width="0.6"/>
<line x1="60.00" y1="458.40" x2="60.00" y2="460.40" stroke="#a8a8a8" stroke-width="0.6"/>
<line x1="185.00" y1="458.40" x2="185.00" y2="460.40" stroke="#a8a8a8" stroke-width="0.6"/>
<line x1="187.50" y1="458.40" x2="187.50" y2="460.40" stroke="#a8a8a8" stroke-width="0.6"/>
<line x1="190.00" y1="458.40" x2="190.00" y2="460.40" stroke="#a8a8a8" stroke-width="0.6"/>
<line x1="192.50" y1="458.40" x2="192.50" y2="460.40" stroke="#a8a8a8" stroke-width="0.6"/>
<line x1="194.00" y1="458.40" x2="194.00" y2="460.40" stroke="#a8a8a8" stroke-width="0.6"/>
<line x1="316.00" y1="458.40" x2="316.00" y2="460.40" stroke="#a8a8a8" stroke-width="0.6"/>
<line x1="318.50" y1="458.40" x2="318.50" y2="460.40" stroke="#a8a8a8" stroke-width="0.6"/>
<line x1="321.00" y1="458.40" x2="321.00" y2="460.40" stroke="#a8a8a8" stroke-width="0.6"/>
<line x1="323.50" y1="458.40" x2="323.50" y2="460.40" stroke="#a8a8a8" stroke-width="0.6"/>
<line x1="326.00" y1="458.40" x2="326.00" y2="460.40" stroke="#a8a8a8" stroke-width="0.6"/>
<text x="47.1" y="472.7" font-size="6.3" fill="#4a4a4a" stroke="#4a4a4a" stroke-width="0.2" text-anchor="middle">-37</text>
<text x="55.4" y="468.7" font-size="6.3" fill="#4a4a4a" stroke="#4a4a4a" stroke-width="0.2" text-anchor="middle">0</text>
<text x="74.5" y="468.7" font-size="6.3" fill="#4a4a4a" stroke="#4a4a4a" stroke-width="0.2" text-anchor="middle">10<tspan font-size="5" dy="-2.9">2</tspan></text>
<text x="102.8" y="468.7" font-size="6.3" fill="#4a4a4a" stroke="#4a4a4a" stroke-width="0.2" text-anchor="middle">10<tspan font-size="5" dy="-2.9">3</tspan></text>
<text x="129.5" y="468.7" font-size="6.3" fill="#4a4a4a" stroke="#4a4a4a" stroke-width="0.2" text-anchor="middle">10<tspan font-size="5" dy="-2.9">4</tspan></text>
<text x="155.5" y="468.7" font-size="6.3" fill="#4a4a4a" stroke="#4a4a4a" stroke-width="0.2" text-anchor="middle">10<tspan font-size="5" dy="-2.9">5</tspan></text>
<text x="182.6" y="472.7" font-size="6.3" fill="#4a4a4a" stroke="#4a4a4a" stroke-width="0.2" text-anchor="middle">-122</text>
<text x="192.9" y="468.7" font-size="6.3" fill="#4a4a4a" stroke="#4a4a4a" stroke-width="0.2" text-anchor="middle">0</text>
<text x="206.6" y="468.7" font-size="6.3" fill="#4a4a4a" stroke="#4a4a4a" stroke-width="0.2" text-anchor="middle">10<tspan font-size="5" dy="-2.9">2</tspan></text>
<text x="235.4" y="468.7" font-size="6.3" fill="#4a4a4a" stroke="#4a4a4a" stroke-width="0.2" text-anchor="middle">10<tspan font-size="5" dy="-2.9">3</tspan></text>
<text x="262.3" y="468.7" font-size="6.3" fill="#4a4a4a" stroke="#4a4a4a" stroke-width="0.2" text-anchor="middle">10<tspan font-size="5" dy="-2.9">4</tspan></text>
<text x="288.6" y="468.7" font-size="6.3" fill="#4a4a4a" stroke="#4a4a4a" stroke-width="0.2" text-anchor="middle">10<tspan font-size="5" dy="-2.9">5</tspan></text>
<text x="313.4" y="472.7" font-size="6.3" fill="#4a4a4a" stroke="#4a4a4a" stroke-width="0.2" text-anchor="middle">-84</text>
<text x="324.1" y="468.7" font-size="6.3" fill="#4a4a4a" stroke="#4a4a4a" stroke-width="0.2" text-anchor="middle">0</text>
<text x="339.6" y="468.7" font-size="6.3" fill="#4a4a4a" stroke="#4a4a4a" stroke-width="0.2" text-anchor="middle">10<tspan font-size="5" dy="-2.9">2</tspan></text>
<text x="368.6" y="468.7" font-size="6.3" fill="#4a4a4a" stroke="#4a4a4a" stroke-width="0.2" text-anchor="middle">10<tspan font-size="5" dy="-2.9">3</tspan></text>
<text x="394.6" y="468.7" font-size="6.3" fill="#4a4a4a" stroke="#4a4a4a" stroke-width="0.2" text-anchor="middle">10<tspan font-size="5" dy="-2.9">4</tspan></text>
<text x="420.6" y="468.7" font-size="6.3" fill="#4a4a4a" stroke="#4a4a4a" stroke-width="0.2" text-anchor="middle">10<tspan font-size="5" dy="-2.9">5</tspan></text>
<text x="58.27" y="223.00" font-size="15.94" font-weight="bold" fill="#111" textLength="37.36" lengthAdjust="spacingAndGlyphs" stroke="#111" stroke-width="0.3">cTnT</text>
<line x1="47.20" y1="224.90" x2="109.50" y2="224.90" stroke="#111" stroke-width="1.5"/>
<polyline points="105.1,221.4 109.4,224.9 105.1,228.4" fill="none" stroke="#111" stroke-width="1.7"/>
<text x="48.24" y="488.20" font-size="16.57" font-weight="bold" fill="#111" textLength="42.34" lengthAdjust="spacingAndGlyphs" stroke="#111" stroke-width="0.3">CD90</text>
<line x1="39.80" y1="490.40" x2="102.80" y2="490.40" stroke="#111" stroke-width="1.6"/>
<polyline points="99.2,487 103.1,490.4 99.2,493.8" fill="none" stroke="#111" stroke-width="1.7"/>
<line x1="517.60" y1="36.60" x2="517.60" y2="155.00" stroke="#222" stroke-width="1.7"/>
<line x1="516.80" y1="154.20" x2="694.00" y2="154.20" stroke="#222" stroke-width="1.7"/>
<line x1="511.80" y1="154.20" x2="517.60" y2="154.20" stroke="#222" stroke-width="1.7"/>
<text x="502.90" y="159.15" font-size="11.00" font-weight="bold" fill="#111" textLength="8.40" lengthAdjust="spacingAndGlyphs" stroke="#111" stroke-width="0.4">0</text>
<line x1="511.80" y1="130.84" x2="517.60" y2="130.84" stroke="#222" stroke-width="1.7"/>
<text x="495.89" y="135.79" font-size="11.00" font-weight="bold" fill="#111" textLength="15.29" lengthAdjust="spacingAndGlyphs" stroke="#111" stroke-width="0.4">20</text>
<line x1="511.80" y1="107.48" x2="517.60" y2="107.48" stroke="#222" stroke-width="1.7"/>
<text x="496.03" y="112.43" font-size="11.00" font-weight="bold" fill="#111" textLength="15.15" lengthAdjust="spacingAndGlyphs" stroke="#111" stroke-width="0.4">40</text>
<line x1="511.80" y1="84.12" x2="517.60" y2="84.12" stroke="#222" stroke-width="1.7"/>
<text x="495.74" y="89.07" font-size="11.00" font-weight="bold" fill="#111" textLength="15.44" lengthAdjust="spacingAndGlyphs" stroke="#111" stroke-width="0.4">60</text>
<line x1="511.80" y1="60.76" x2="517.60" y2="60.76" stroke="#222" stroke-width="1.7"/>
<text x="495.89" y="65.71" font-size="11.00" font-weight="bold" fill="#111" textLength="15.29" lengthAdjust="spacingAndGlyphs" stroke="#111" stroke-width="0.4">80</text>
<line x1="511.80" y1="37.40" x2="517.60" y2="37.40" stroke="#222" stroke-width="1.7"/>
<text x="488.17" y="42.35" font-size="11.00" font-weight="bold" fill="#111" textLength="22.96" lengthAdjust="spacingAndGlyphs" stroke="#111" stroke-width="0.4">100</text>
<line x1="531.20" y1="154.20" x2="531.20" y2="159.60" stroke="#222" stroke-width="1.7"/>
<text x="0" y="0" font-size="11.8" font-weight="bold" text-anchor="end" fill="#111" stroke="#111" stroke-width="0.4" textLength="39.48" lengthAdjust="spacingAndGlyphs" transform="translate(533.5,169.6) rotate(-45)">Parent</text>
<line x1="552.30" y1="154.20" x2="552.30" y2="159.60" stroke="#222" stroke-width="1.7"/>
<text x="0" y="0" font-size="11.8" font-weight="bold" text-anchor="end" fill="#111" stroke="#111" stroke-width="0.4" textLength="40.19" lengthAdjust="spacingAndGlyphs" transform="translate(554.6,169.6) rotate(-45)">SQT22</text>
<line x1="573.40" y1="154.20" x2="573.40" y2="159.60" stroke="#222" stroke-width="1.7"/>
<text x="0" y="0" font-size="11.8" font-weight="bold" text-anchor="end" fill="#111" stroke="#111" stroke-width="0.4" textLength="40.19" lengthAdjust="spacingAndGlyphs" transform="translate(575.7,169.6) rotate(-45)">SQT83</text>
<line x1="594.50" y1="154.20" x2="594.50" y2="159.60" stroke="#222" stroke-width="1.7"/>
<text x="0" y="0" font-size="11.8" font-weight="bold" text-anchor="end" fill="#111" stroke="#111" stroke-width="0.4" textLength="40.19" lengthAdjust="spacingAndGlyphs" transform="translate(596.8,169.6) rotate(-45)">SQT87</text>
<line x1="615.70" y1="154.20" x2="615.70" y2="159.60" stroke="#222" stroke-width="1.7"/>
<text x="0" y="0" font-size="11.8" font-weight="bold" text-anchor="end" fill="#111" stroke="#111" stroke-width="0.4" textLength="40.19" lengthAdjust="spacingAndGlyphs" transform="translate(618.0,169.6) rotate(-45)">SQT96</text>
<line x1="636.80" y1="154.20" x2="636.80" y2="159.60" stroke="#222" stroke-width="1.7"/>
<text x="0" y="0" font-size="11.8" font-weight="bold" text-anchor="end" fill="#111" stroke="#111" stroke-width="0.4" textLength="39.47" lengthAdjust="spacingAndGlyphs" transform="translate(639.1,169.6) rotate(-45)">LQT26</text>
<line x1="657.90" y1="154.20" x2="657.90" y2="159.60" stroke="#222" stroke-width="1.7"/>
<text x="0" y="0" font-size="11.8" font-weight="bold" text-anchor="end" fill="#111" stroke="#111" stroke-width="0.4" textLength="39.47" lengthAdjust="spacingAndGlyphs" transform="translate(660.2,169.6) rotate(-45)">LQT46</text>
<line x1="679.00" y1="154.20" x2="679.00" y2="159.60" stroke="#222" stroke-width="1.7"/>
<text x="0" y="0" font-size="11.8" font-weight="bold" text-anchor="end" fill="#111" stroke="#111" stroke-width="0.4" textLength="39.47" lengthAdjust="spacingAndGlyphs" transform="translate(681.3,169.6) rotate(-45)">LQT79</text>
<text x="0" y="0" font-size="11.2" font-weight="bold" fill="#111" stroke="#111" stroke-width="0.4" textLength="60.00" lengthAdjust="spacingAndGlyphs" transform="translate(481,122.2) rotate(-90)">Purity (%)</text>
<line x1="531.20" y1="58.30" x2="531.20" y2="87.40" stroke="#111" stroke-width="3"/>
<line x1="527.50" y1="58.30" x2="534.90" y2="58.30" stroke="#111" stroke-width="3"/>
<line x1="527.50" y1="87.40" x2="534.90" y2="87.40" stroke="#111" stroke-width="3"/>
<line x1="524.20" y1="72.80" x2="538.20" y2="72.80" stroke="#111" stroke-width="3"/>
<circle cx="531.3" cy="39.5" r="3.1" fill="#F01E24" fill-opacity="0.88"/>
<circle cx="527.3" cy="68.6" r="3.1" fill="#F01E24" fill-opacity="0.88"/>
<circle cx="534.9" cy="74.1" r="3.1" fill="#F01E24" fill-opacity="0.88"/>
<circle cx="531.3" cy="108.6" r="3.1" fill="#F01E24" fill-opacity="0.88"/>
<line x1="552.30" y1="45.40" x2="552.30" y2="55.90" stroke="#111" stroke-width="3"/>
<line x1="548.60" y1="45.40" x2="556.00" y2="45.40" stroke="#111" stroke-width="3"/>
<line x1="548.60" y1="55.90" x2="556.00" y2="55.90" stroke="#111" stroke-width="3"/>
<line x1="545.30" y1="50.50" x2="559.30" y2="50.50" stroke="#111" stroke-width="3"/>
<circle cx="552.7" cy="39.0" r="3.1" fill="#F01E24" fill-opacity="0.88"/>
<circle cx="548.5" cy="47.7" r="3.1" fill="#F01E24" fill-opacity="0.88"/>
<circle cx="556.4" cy="53.2" r="3.1" fill="#F01E24" fill-opacity="0.88"/>
<circle cx="552.7" cy="62.8" r="3.1" fill="#F01E24" fill-opacity="0.88"/>
<line x1="573.40" y1="43.70" x2="573.40" y2="58.60" stroke="#111" stroke-width="3"/>
<line x1="569.70" y1="43.70" x2="577.10" y2="43.70" stroke="#111" stroke-width="3"/>
<line x1="569.70" y1="58.60" x2="577.10" y2="58.60" stroke="#111" stroke-width="3"/>
<line x1="566.40" y1="51.40" x2="580.40" y2="51.40" stroke="#111" stroke-width="3"/>
<circle cx="573.6" cy="39.0" r="3.1" fill="#F01E24" fill-opacity="0.88"/>
<circle cx="573.6" cy="51.7" r="3.1" fill="#F01E24" fill-opacity="0.88"/>
<circle cx="573.6" cy="62.8" r="3.1" fill="#F01E24" fill-opacity="0.88"/>
<line x1="587.50" y1="69.50" x2="601.50" y2="69.50" stroke="#111" stroke-width="3"/>
<circle cx="594.5" cy="69.5" r="3.1" fill="#F01E24" fill-opacity="0.88"/>
<line x1="615.70" y1="45.00" x2="615.70" y2="103.50" stroke="#111" stroke-width="3"/>
<line x1="612.00" y1="45.00" x2="619.40" y2="45.00" stroke="#111" stroke-width="3"/>
<line x1="612.00" y1="103.50" x2="619.40" y2="103.50" stroke="#111" stroke-width="3"/>
<line x1="608.70" y1="74.10" x2="622.70" y2="74.10" stroke="#111" stroke-width="3"/>
<circle cx="615.8" cy="45.0" r="3.1" fill="#F01E24" fill-opacity="0.88"/>
<circle cx="615.8" cy="103.5" r="3.1" fill="#F01E24" fill-opacity="0.88"/>
<line x1="636.80" y1="49.20" x2="636.80" y2="76.50" stroke="#111" stroke-width="3"/>
<line x1="633.10" y1="49.20" x2="640.50" y2="49.20" stroke="#111" stroke-width="3"/>
<line x1="633.10" y1="76.50" x2="640.50" y2="76.50" stroke="#111" stroke-width="3"/>
<line x1="629.80" y1="63.20" x2="643.80" y2="63.20" stroke="#111" stroke-width="3"/>
<circle cx="636.9" cy="39.2" r="3.1" fill="#F01E24" fill-opacity="0.88"/>
<circle cx="632.7" cy="53.2" r="3.1" fill="#F01E24" fill-opacity="0.88"/>
<circle cx="640.9" cy="57.7" r="3.1" fill="#F01E24" fill-opacity="0.88"/>
<circle cx="636.9" cy="101.4" r="3.1" fill="#F01E24" fill-opacity="0.88"/>
<line x1="657.90" y1="41.00" x2="657.90" y2="50.80" stroke="#111" stroke-width="3"/>
<line x1="654.20" y1="41.00" x2="661.60" y2="41.00" stroke="#111" stroke-width="3"/>
<line x1="654.20" y1="50.80" x2="661.60" y2="50.80" stroke="#111" stroke-width="3"/>
<line x1="650.90" y1="45.90" x2="664.90" y2="45.90" stroke="#111" stroke-width="3"/>
<circle cx="654.0" cy="38.6" r="3.1" fill="#F01E24" fill-opacity="0.88"/>
<circle cx="662.4" cy="44.1" r="3.1" fill="#F01E24" fill-opacity="0.88"/>
<circle cx="658.2" cy="54.5" r="3.1" fill="#F01E24" fill-opacity="0.88"/>
<line x1="672.00" y1="105.50" x2="686.00" y2="105.50" stroke="#111" stroke-width="3"/>
<circle cx="679.1" cy="101.4" r="3.1" fill="#F01E24" fill-opacity="0.88"/>
<circle cx="679.1" cy="109.5" r="3.1" fill="#F01E24" fill-opacity="0.88"/>
<line x1="517.60" y1="307.80" x2="517.60" y2="426.70" stroke="#222" stroke-width="1.7"/>
<line x1="516.80" y1="425.90" x2="694.00" y2="425.90" stroke="#222" stroke-width="1.7"/>
<line x1="511.80" y1="425.90" x2="517.60" y2="425.90" stroke="#222" stroke-width="1.7"/>
<text x="502.90" y="430.85" font-size="11.00" font-weight="bold" fill="#111" textLength="8.40" lengthAdjust="spacingAndGlyphs" stroke="#111" stroke-width="0.4">0</text>
<line x1="511.80" y1="402.44" x2="517.60" y2="402.44" stroke="#222" stroke-width="1.7"/>
<text x="495.89" y="407.39" font-size="11.00" font-weight="bold" fill="#111" textLength="15.29" lengthAdjust="spacingAndGlyphs" stroke="#111" stroke-width="0.4">20</text>
<line x1="511.80" y1="378.98" x2="517.60" y2="378.98" stroke="#222" stroke-width="1.7"/>
<text x="496.03" y="383.93" font-size="11.00" font-weight="bold" fill="#111" textLength="15.15" lengthAdjust="spacingAndGlyphs" stroke="#111" stroke-width="0.4">40</text>
<line x1="511.80" y1="355.52" x2="517.60" y2="355.52" stroke="#222" stroke-width="1.7"/>
<text x="495.74" y="360.47" font-size="11.00" font-weight="bold" fill="#111" textLength="15.44" lengthAdjust="spacingAndGlyphs" stroke="#111" stroke-width="0.4">60</text>
<line x1="511.80" y1="332.06" x2="517.60" y2="332.06" stroke="#222" stroke-width="1.7"/>
<text x="495.89" y="337.01" font-size="11.00" font-weight="bold" fill="#111" textLength="15.29" lengthAdjust="spacingAndGlyphs" stroke="#111" stroke-width="0.4">80</text>
<line x1="511.80" y1="308.60" x2="517.60" y2="308.60" stroke="#222" stroke-width="1.7"/>
<text x="488.17" y="313.55" font-size="11.00" font-weight="bold" fill="#111" textLength="22.96" lengthAdjust="spacingAndGlyphs" stroke="#111" stroke-width="0.4">100</text>
<line x1="531.20" y1="425.90" x2="531.20" y2="431.30" stroke="#222" stroke-width="1.7"/>
<text x="0" y="0" font-size="11.8" font-weight="bold" text-anchor="end" fill="#111" stroke="#111" stroke-width="0.4" textLength="39.48" lengthAdjust="spacingAndGlyphs" transform="translate(533.5,441.3) rotate(-45)">Parent</text>
<line x1="552.30" y1="425.90" x2="552.30" y2="431.30" stroke="#222" stroke-width="1.7"/>
<text x="0" y="0" font-size="11.8" font-weight="bold" text-anchor="end" fill="#111" stroke="#111" stroke-width="0.4" textLength="40.19" lengthAdjust="spacingAndGlyphs" transform="translate(554.6,441.3) rotate(-45)">SQT22</text>
<line x1="573.40" y1="425.90" x2="573.40" y2="431.30" stroke="#222" stroke-width="1.7"/>
<text x="0" y="0" font-size="11.8" font-weight="bold" text-anchor="end" fill="#111" stroke="#111" stroke-width="0.4" textLength="40.19" lengthAdjust="spacingAndGlyphs" transform="translate(575.7,441.3) rotate(-45)">SQT83</text>
<line x1="594.50" y1="425.90" x2="594.50" y2="431.30" stroke="#222" stroke-width="1.7"/>
<text x="0" y="0" font-size="11.8" font-weight="bold" text-anchor="end" fill="#111" stroke="#111" stroke-width="0.4" textLength="40.19" lengthAdjust="spacingAndGlyphs" transform="translate(596.8,441.3) rotate(-45)">SQT87</text>
<line x1="615.70" y1="425.90" x2="615.70" y2="431.30" stroke="#222" stroke-width="1.7"/>
<text x="0" y="0" font-size="11.8" font-weight="bold" text-anchor="end" fill="#111" stroke="#111" stroke-width="0.4" textLength="40.19" lengthAdjust="spacingAndGlyphs" transform="translate(618.0,441.3) rotate(-45)">SQT96</text>
<line x1="636.80" y1="425.90" x2="636.80" y2="431.30" stroke="#222" stroke-width="1.7"/>
<text x="0" y="0" font-size="11.8" font-weight="bold" text-anchor="end" fill="#111" stroke="#111" stroke-width="0.4" textLength="39.47" lengthAdjust="spacingAndGlyphs" transform="translate(639.1,441.3) rotate(-45)">LQT26</text>
<line x1="657.90" y1="425.90" x2="657.90" y2="431.30" stroke="#222" stroke-width="1.7"/>
<text x="0" y="0" font-size="11.8" font-weight="bold" text-anchor="end" fill="#111" stroke="#111" stroke-width="0.4" textLength="39.47" lengthAdjust="spacingAndGlyphs" transform="translate(660.2,441.3) rotate(-45)">LQT46</text>
<line x1="679.00" y1="425.90" x2="679.00" y2="431.30" stroke="#222" stroke-width="1.7"/>
<text x="0" y="0" font-size="11.8" font-weight="bold" text-anchor="end" fill="#111" stroke="#111" stroke-width="0.4" textLength="39.47" lengthAdjust="spacingAndGlyphs" transform="translate(681.3,441.3) rotate(-45)">LQT79</text>
<text x="0" y="0" font-size="11.2" font-weight="bold" fill="#111" stroke="#111" stroke-width="0.4" textLength="59.80" lengthAdjust="spacingAndGlyphs" transform="translate(481,392.9) rotate(-90)">Purity (%)</text>
<line x1="524.20" y1="311.00" x2="538.20" y2="311.00" stroke="#111" stroke-width="3"/>
<circle cx="527.3" cy="312.3" r="3.1" fill="#F01E24" fill-opacity="0.88"/>
<circle cx="531.8" cy="309.2" r="3.1" fill="#F01E24" fill-opacity="0.88"/>
<circle cx="535.8" cy="310.5" r="3.1" fill="#F01E24" fill-opacity="0.88"/>
<line x1="552.30" y1="310.50" x2="552.30" y2="319.50" stroke="#111" stroke-width="3"/>
<line x1="548.60" y1="310.50" x2="556.00" y2="310.50" stroke="#111" stroke-width="3"/>
<line x1="548.60" y1="319.50" x2="556.00" y2="319.50" stroke="#111" stroke-width="3"/>
<line x1="545.30" y1="315.40" x2="559.30" y2="315.40" stroke="#111" stroke-width="3"/>
<circle cx="548.2" cy="309.9" r="3.1" fill="#F01E24" fill-opacity="0.88"/>
<circle cx="556.9" cy="309.9" r="3.1" fill="#F01E24" fill-opacity="0.88"/>
<circle cx="552.4" cy="325.9" r="3.1" fill="#F01E24" fill-opacity="0.88"/>
<line x1="573.40" y1="309.20" x2="573.40" y2="327.40" stroke="#111" stroke-width="3"/>
<line x1="569.70" y1="309.20" x2="577.10" y2="309.20" stroke="#111" stroke-width="3"/>
<line x1="569.70" y1="327.40" x2="577.10" y2="327.40" stroke="#111" stroke-width="3"/>
<line x1="566.40" y1="318.30" x2="580.40" y2="318.30" stroke="#111" stroke-width="3"/>
<circle cx="573.3" cy="309.2" r="3.1" fill="#F01E24" fill-opacity="0.88"/>
<circle cx="573.3" cy="327.4" r="3.1" fill="#F01E24" fill-opacity="0.88"/>
<line x1="587.50" y1="329.60" x2="601.50" y2="329.60" stroke="#111" stroke-width="3"/>
<circle cx="594.7" cy="329.6" r="3.1" fill="#F01E24" fill-opacity="0.88"/>
<line x1="608.70" y1="319.20" x2="622.70" y2="319.20" stroke="#111" stroke-width="3"/>
<circle cx="615.9" cy="319.2" r="3.1" fill="#F01E24" fill-opacity="0.88"/>
<line x1="636.80" y1="310.50" x2="636.80" y2="321.40" stroke="#111" stroke-width="3"/>
<line x1="633.10" y1="310.50" x2="640.50" y2="310.50" stroke="#111" stroke-width="3"/>
<line x1="633.10" y1="321.40" x2="640.50" y2="321.40" stroke="#111" stroke-width="3"/>
<line x1="629.80" y1="315.40" x2="643.80" y2="315.40" stroke="#111" stroke-width="3"/>
<circle cx="632.9" cy="309.2" r="3.1" fill="#F01E24" fill-opacity="0.88"/>
<circle cx="640.9" cy="309.9" r="3.1" fill="#F01E24" fill-opacity="0.88"/>
<circle cx="636.9" cy="327.4" r="3.1" fill="#F01E24" fill-opacity="0.88"/>
<line x1="657.90" y1="316.50" x2="657.90" y2="342.30" stroke="#111" stroke-width="3"/>
<line x1="654.20" y1="316.50" x2="661.60" y2="316.50" stroke="#111" stroke-width="3"/>
<line x1="654.20" y1="342.30" x2="661.60" y2="342.30" stroke="#111" stroke-width="3"/>
<line x1="650.90" y1="329.20" x2="664.90" y2="329.20" stroke="#111" stroke-width="3"/>
<circle cx="657.8" cy="316.5" r="3.1" fill="#F01E24" fill-opacity="0.88"/>
<circle cx="657.8" cy="342.3" r="3.1" fill="#F01E24" fill-opacity="0.88"/>
<line x1="672.00" y1="367.20" x2="686.00" y2="367.20" stroke="#111" stroke-width="3"/>
<circle cx="679.1" cy="367.2" r="3.1" fill="#F01E24" fill-opacity="0.88"/>
</svg>
</body></html>
